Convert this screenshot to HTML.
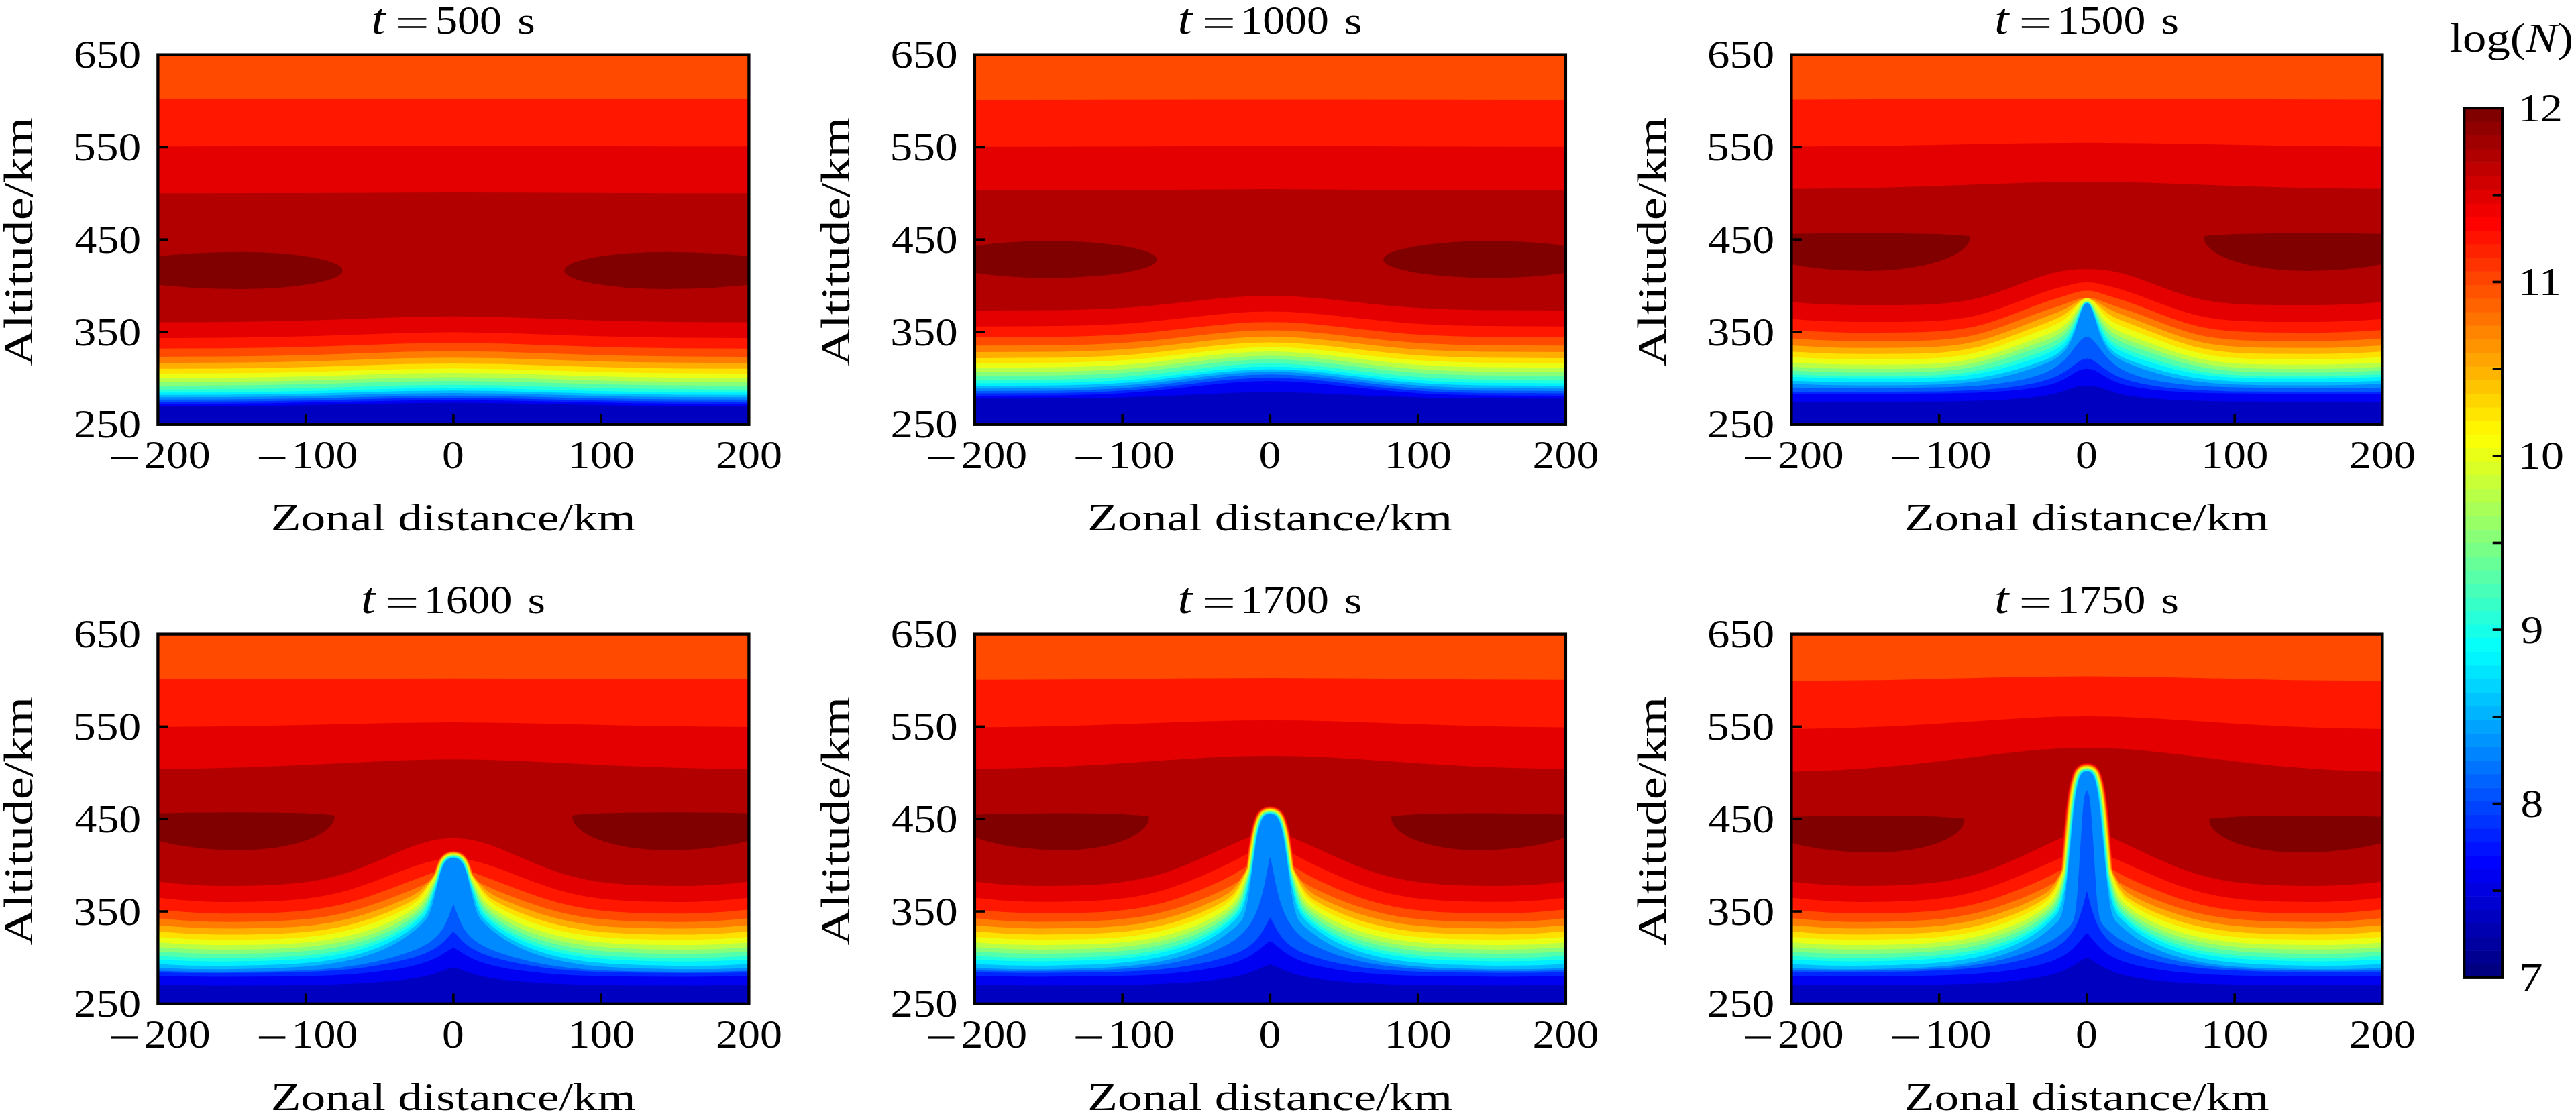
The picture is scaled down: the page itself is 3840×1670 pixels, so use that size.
<!DOCTYPE html><html><head><meta charset="utf-8"><style>html,body{margin:0;padding:0;background:#fff;}svg text{font-family:"Liberation Serif",serif;fill:#000}</style></head><body><svg width="3840" height="1670" viewBox="0 0 3840 1670" font-family="Liberation Serif" style="display:block">
<rect width="3840" height="1670" fill="#fff"/>
<clipPath id="clip00"><rect x="235.40" y="81.60" width="881.0" height="551.2"/></clipPath>
<g clip-path="url(#clip00)">
<rect x="233.40" y="79.60" width="885.0" height="555.2" fill="#0000c0"/>
<path d="M232.4,78.6L232.4,606.0L235.4,606.0 407.2,605.1 604.3,601.2 675.9,600.6 747.5,601.2 944.6,605.1 1116.4,606.0L1119.4,606.0L1119.4,78.6Z" fill="#0000f2"/>
<path d="M232.4,78.6L232.4,602.2L235.4,602.2 332.3,601.9 407.2,601.2 604.3,597.2 675.9,596.5 747.5,597.2 944.6,601.2 1019.5,601.9 1116.4,602.2L1119.4,602.2L1119.4,78.6Z" fill="#0026ff"/>
<path d="M232.4,78.6L232.4,599.0L235.4,599.0 332.3,598.7 407.2,598.0 471.1,596.9 604.3,593.8 675.9,593.1 747.5,593.8 880.7,596.9 944.6,598.0 1019.5,598.7 1116.4,599.0L1119.4,599.0L1119.4,78.6Z" fill="#0058ff"/>
<path d="M232.4,78.6L232.4,595.8L235.4,595.8 332.3,595.5 407.2,594.8 471.1,593.7 604.3,590.5 675.9,589.7 747.5,590.5 880.7,593.7 944.6,594.8 1019.5,595.5 1116.4,595.8L1119.4,595.8L1119.4,78.6Z" fill="#008aff"/>
<path d="M232.4,78.6L232.4,592.2L235.4,592.2 332.3,591.9 407.2,591.2 471.1,590.0 604.3,586.7 675.9,586.0 747.5,586.7 880.7,590.0 944.6,591.2 1019.5,591.9 1116.4,592.2L1119.4,592.2L1119.4,78.6Z" fill="#00bcff"/>
<path d="M232.4,78.6L232.4,588.8L235.4,588.8 332.3,588.5 407.2,587.7 471.1,586.5 604.3,583.1 675.9,582.3 747.5,583.1 880.7,586.5 944.6,587.7 1019.5,588.5 1116.4,588.8L1119.4,588.8L1119.4,78.6Z" fill="#00efff"/>
<path d="M232.4,78.6L232.4,585.2L235.4,585.2 332.3,584.9 407.2,584.1 471.1,582.8 604.3,579.3 675.9,578.5 747.5,579.3 880.7,582.8 944.6,584.1 1019.5,584.9 1116.4,585.2L1119.4,585.2L1119.4,78.6Z" fill="#22ffdd"/>
<path d="M232.4,78.6L232.4,580.7L235.4,580.7 332.3,580.3 407.2,579.5 471.1,578.2 604.3,574.6 675.9,573.8 747.5,574.6 880.7,578.2 944.6,579.5 1019.5,580.3 1116.4,580.7L1119.4,580.7L1119.4,78.6Z" fill="#54ffab"/>
<path d="M232.4,78.6L232.4,575.0L235.4,575.0 332.3,574.7 407.2,573.8 471.1,572.5 604.3,568.8 675.9,567.9 747.5,568.8 880.7,572.5 944.6,573.8 1019.5,574.7 1116.4,575.0L1119.4,575.0L1119.4,78.6Z" fill="#87ff78"/>
<path d="M232.4,78.6L232.4,569.6L235.4,569.6 332.3,569.3 407.2,568.4 471.1,567.1 604.3,563.2 675.9,562.4 747.5,563.2 880.7,567.1 944.6,568.4 1019.5,569.3 1116.4,569.6L1119.4,569.6L1119.4,78.6Z" fill="#b9ff46"/>
<path d="M232.4,78.6L232.4,563.4L235.4,563.4 332.3,563.1 407.2,562.2 471.1,560.8 604.3,556.8 675.9,555.9 747.5,556.8 880.7,560.8 944.6,562.2 1019.5,563.1 1116.4,563.4L1119.4,563.4L1119.4,78.6Z" fill="#ebff14"/>
<path d="M232.4,78.6L232.4,556.9L235.4,556.9 332.3,556.6 407.2,555.7 471.1,554.2 604.3,550.2 675.9,549.3 747.5,550.2 880.7,554.2 944.6,555.7 1019.5,556.6 1116.4,556.9L1119.4,556.9L1119.4,78.6Z" fill="#ffe100"/>
<path d="M232.4,78.6L232.4,549.8L235.4,549.8 332.3,549.4 407.2,548.5 471.1,547.0 604.3,542.8 675.9,541.9 747.5,542.8 880.7,547.0 944.6,548.5 1019.5,549.4 1116.4,549.8L1119.4,549.8L1119.4,78.6Z" fill="#ffae00"/>
<path d="M232.4,78.6L232.4,541.2L235.4,541.2 332.3,540.8 407.2,539.9 471.1,538.4 604.3,534.1 675.9,533.2 747.5,534.1 880.7,538.4 944.6,539.9 1019.5,540.8 1116.4,541.2L1119.4,541.2L1119.4,78.6Z" fill="#ff7c00"/>
<path d="M232.4,78.6L232.4,531.9L235.4,531.9 332.3,531.5 407.2,530.5 471.1,528.9 604.3,524.6 675.9,523.6 747.5,524.6 880.7,528.9 944.6,530.5 1019.5,531.5 1116.4,531.9L1119.4,531.9L1119.4,78.6Z" fill="#ff4a00"/>
<path d="M232.4,78.6L232.4,519.7L235.4,519.7 332.3,519.3 407.2,518.3 471.1,516.7 604.3,512.3 675.9,511.3 747.5,512.3 880.7,516.7 944.6,518.3 1019.5,519.3 1116.4,519.7L1119.4,519.7L1119.4,78.6Z" fill="#ff1700"/>
<path d="M232.4,78.6L232.4,504.0L235.4,504.0 332.3,503.6 407.2,502.6 471.1,500.9 604.3,496.4 675.9,495.3 747.5,496.4 880.7,500.9 944.6,502.6 1019.5,503.6 1116.4,504.0L1119.4,504.0L1119.4,78.6Z" fill="#e40000"/>
<path d="M232.4,78.6L232.4,480.6L235.4,480.6 332.3,480.2 407.2,479.1 471.1,477.5 604.3,472.8 641.3,472.0 675.9,471.7 710.5,472.0 747.5,472.8 880.7,477.5 944.6,479.1 1019.5,480.2 1116.4,480.6L1119.4,480.6L1119.4,78.6Z" fill="#b20000"/>
<path d="M232.4,78.6L232.4,288.3L235.4,288.3 407.2,288.1 675.9,286.9 944.6,288.1 1116.4,288.3L1119.4,288.3L1119.4,78.6Z" fill="#e40000"/>
<path d="M232.4,78.6L232.4,218.3L235.4,218.3 675.9,217.6 1116.4,218.3L1119.4,218.3L1119.4,78.6Z" fill="#ff1700"/>
<path d="M232.4,78.6L232.4,147.7L235.4,147.7 1116.4,147.7L1119.4,147.7L1119.4,78.6Z" fill="#ff4a00"/>
<path d="M510.7,403.4 509.9,400.5 507.4,397.6 503.3,394.8 499.2,392.8 492.4,390.2 484.2,387.7 466.5,383.8 442.0,380.2 417.6,377.8 387.4,376.2 359.6,375.8 323.4,376.3 288.4,377.7 251.5,380.4 223.1,383.6 199.4,387.4 188.2,389.8 178.9,392.4 171.7,395.2 166.6,398.0 163.6,400.8 162.7,403.0 162.9,404.4 163.6,405.9 166.6,408.8 170.2,410.9 176.9,413.6 185.7,416.2 196.4,418.7 219.4,422.7 251.5,426.3 283.6,428.7 323.4,430.4 359.6,430.9 387.4,430.5 417.6,428.9 445.3,426.1 466.5,422.9 484.2,419.0 492.4,416.6 499.2,414.0 504.5,411.2 507.4,409.1 509.9,406.3 510.7,403.4Z" fill="#800000"/>
<path d="M841.1,403.4 841.9,400.5 844.4,397.6 848.5,394.8 852.6,392.8 859.4,390.2 867.6,387.7 885.3,383.8 909.8,380.2 934.2,377.8 964.4,376.2 992.2,375.8 1028.4,376.3 1063.4,377.7 1100.3,380.4 1128.7,383.6 1152.4,387.4 1163.6,389.8 1172.9,392.4 1180.1,395.2 1184.2,397.3 1187.7,400.1 1189.1,403.0 1188.7,405.2 1186.2,408.0 1181.6,410.9 1174.9,413.6 1166.1,416.2 1155.4,418.7 1132.4,422.7 1100.3,426.3 1068.2,428.7 1028.4,430.4 992.2,430.9 964.4,430.5 934.2,428.9 906.5,426.1 885.3,422.9 867.6,419.0 859.4,416.6 852.6,414.0 848.5,411.9 844.4,409.1 841.9,406.3 841.1,403.4Z" fill="#800000"/>
</g>
<rect x="453.85" y="617.30" width="3.6" height="15.5" fill="#000"/>
<rect x="674.10" y="617.30" width="3.6" height="15.5" fill="#000"/>
<rect x="894.35" y="617.30" width="3.6" height="15.5" fill="#000"/>
<rect x="235.40" y="217.60" width="15.5" height="3.6" fill="#000"/>
<rect x="235.40" y="355.40" width="15.5" height="3.6" fill="#000"/>
<rect x="235.40" y="493.20" width="15.5" height="3.6" fill="#000"/>
<rect x="235.40" y="81.60" width="881.0" height="551.2" fill="none" stroke="#000" stroke-width="4.3"/>
<text transform="translate(110.03,101.10) scale(1.1108,1)" font-size="60.15">650</text>
<text transform="translate(108.98,238.90) scale(1.1228,1)" font-size="60.15">550</text>
<text transform="translate(111.62,376.70) scale(1.0927,1)" font-size="60.15">450</text>
<text transform="translate(109.69,514.50) scale(1.1146,1)" font-size="60.15">350</text>
<text transform="translate(109.96,652.30) scale(1.1115,1)" font-size="60.15">250</text>
<text transform="translate(215.01,698.30) scale(1.1078,1)" font-size="59.40">200</text>
<rect x="166.00" y="681.30" width="39.0" height="3.3" fill="#000"/>
<text transform="translate(434.49,698.30) scale(1.1126,1)" font-size="59.40">100</text>
<rect x="385.90" y="681.30" width="39.5" height="3.3" fill="#000"/>
<text transform="translate(659.10,698.30) scale(1.1043,1)" font-size="59.40">0</text>
<text transform="translate(846.07,698.30) scale(1.1273,1)" font-size="59.40">100</text>
<text transform="translate(1067.10,698.30) scale(1.1114,1)" font-size="59.40">200</text>
<text transform="translate(403.79,790.80) scale(1.2917,1)" font-size="56.78">Zonal distance/km</text>
<text transform="translate(48.20,545.75) rotate(-90) scale(1.2380,1)" font-size="62.00">Altitude/km</text>
<text transform="translate(553.21,49.50) scale(1.1842,1)" font-size="65.19" font-style="italic">t</text>
<rect x="594.10" y="27.10" width="41.3" height="2.6" fill="#000"/>
<rect x="594.10" y="39.20" width="41.3" height="2.6" fill="#000"/>
<text transform="translate(648.95,49.50) scale(1.1142,1)" font-size="59.40">500</text>
<text transform="translate(771.21,49.50) scale(1.1991,1)" font-size="56.66">s</text>
<clipPath id="clip01"><rect x="1452.90" y="81.60" width="881.0" height="551.2"/></clipPath>
<g clip-path="url(#clip01)">
<rect x="1450.90" y="79.60" width="885.0" height="555.2" fill="#0000c0"/>
<path d="M1449.9,78.6L1449.9,594.3L1452.9,594.3 1578.4,594.1 1655.5,593.0 1717.2,591.1 1835.5,585.8 1865.2,585.0 1893.4,584.7 1921.6,585.0 1951.3,585.8 2069.6,591.1 2131.3,593.0 2208.4,594.1 2333.9,594.3L2336.9,594.3L2336.9,78.6Z" fill="#0000f2"/>
<path d="M1449.9,78.6L1449.9,590.1L1452.9,590.1 1578.4,589.5 1620.3,588.6 1655.5,587.2 1686.4,585.3 1717.2,582.8 1807.1,573.2 1835.5,570.6 1865.2,568.7 1893.4,568.1 1921.6,568.7 1951.3,570.6 1979.7,573.2 2069.6,582.8 2100.4,585.3 2131.3,587.2 2166.5,588.6 2208.4,589.5 2333.9,590.1L2336.9,590.1L2336.9,78.6Z" fill="#0026ff"/>
<path d="M1449.9,78.6L1449.9,586.6L1452.9,586.6 1578.4,585.9 1620.3,585.0 1655.5,583.5 1686.4,581.5 1717.2,578.8 1807.1,568.6 1835.5,565.8 1865.2,563.9 1893.4,563.2 1921.6,563.9 1951.3,565.8 1979.7,568.6 2069.6,578.8 2100.4,581.5 2131.3,583.5 2166.5,585.0 2208.4,585.9 2333.9,586.6L2336.9,586.6L2336.9,78.6Z" fill="#0058ff"/>
<path d="M1449.9,78.6L1449.9,583.1L1452.9,583.1 1578.4,582.4 1620.3,581.3 1655.5,579.8 1686.4,577.7 1717.2,574.8 1807.1,564.1 1835.5,561.1 1865.2,559.0 1893.4,558.3 1921.6,559.0 1951.3,561.1 1979.7,564.1 2069.6,574.8 2100.4,577.7 2131.3,579.8 2166.5,581.3 2208.4,582.4 2333.9,583.1L2336.9,583.1L2336.9,78.6Z" fill="#008aff"/>
<path d="M1449.9,78.6L1449.9,579.2L1452.9,579.2 1578.4,578.4 1620.3,577.4 1655.5,575.8 1686.4,573.7 1717.2,570.9 1807.1,560.1 1835.5,557.1 1865.2,555.1 1893.4,554.4 1921.6,555.1 1951.3,557.1 1979.7,560.1 2069.6,570.9 2100.4,573.7 2131.3,575.8 2166.5,577.4 2208.4,578.4 2333.9,579.2L2336.9,579.2L2336.9,78.6Z" fill="#00bcff"/>
<path d="M1449.9,78.6L1449.9,575.4L1452.9,575.4 1578.4,574.6 1620.3,573.6 1655.5,572.0 1686.4,569.9 1717.2,567.1 1807.1,556.3 1835.5,553.4 1865.2,551.3 1893.4,550.6 1921.6,551.3 1951.3,553.4 1979.7,556.3 2069.6,567.1 2100.4,569.9 2131.3,572.0 2166.5,573.6 2208.4,574.6 2333.9,575.4L2336.9,575.4L2336.9,78.6Z" fill="#00efff"/>
<path d="M1449.9,78.6L1449.9,571.4L1452.9,571.4 1578.4,570.7 1620.3,569.7 1655.5,568.1 1686.4,566.0 1717.2,563.2 1807.1,552.4 1835.5,549.4 1865.2,547.3 1893.4,546.7 1921.6,547.3 1951.3,549.4 1979.7,552.4 2069.6,563.2 2100.4,566.0 2131.3,568.1 2166.5,569.7 2208.4,570.7 2333.9,571.4L2336.9,571.4L2336.9,78.6Z" fill="#22ffdd"/>
<path d="M1449.9,78.6L1449.9,566.5L1452.9,566.5 1578.4,565.8 1620.3,564.8 1655.5,563.2 1686.4,561.1 1717.2,558.3 1807.1,547.5 1835.5,544.5 1865.2,542.4 1893.4,541.8 1921.6,542.4 1951.3,544.5 1979.7,547.5 2069.6,558.3 2100.4,561.1 2131.3,563.2 2166.5,564.8 2208.4,565.8 2333.9,566.5L2336.9,566.5L2336.9,78.6Z" fill="#54ffab"/>
<path d="M1449.9,78.6L1449.9,560.5L1452.9,560.5 1578.4,559.8 1620.3,558.8 1655.5,557.2 1686.4,555.1 1717.2,552.3 1807.1,541.5 1835.5,538.5 1865.2,536.4 1893.4,535.8 1921.6,536.4 1951.3,538.5 1979.7,541.5 2069.6,552.3 2100.4,555.1 2131.3,557.2 2166.5,558.8 2208.4,559.8 2333.9,560.5L2336.9,560.5L2336.9,78.6Z" fill="#87ff78"/>
<path d="M1449.9,78.6L1449.9,554.8L1452.9,554.8 1578.4,554.1 1620.3,553.1 1655.5,551.5 1686.4,549.5 1717.2,546.7 1807.1,536.0 1835.5,533.1 1865.2,531.0 1893.4,530.3 1921.6,531.0 1951.3,533.1 1979.7,536.0 2069.6,546.7 2100.4,549.5 2131.3,551.5 2166.5,553.1 2208.4,554.1 2333.9,554.8L2336.9,554.8L2336.9,78.6Z" fill="#b9ff46"/>
<path d="M1449.9,78.6L1449.9,548.3L1452.9,548.3 1578.4,547.6 1620.3,546.6 1655.5,545.0 1686.4,543.0 1717.2,540.2 1807.1,529.7 1835.5,526.8 1865.2,524.8 1893.4,524.1 1921.6,524.8 1951.3,526.8 1979.7,529.7 2069.6,540.2 2100.4,543.0 2131.3,545.0 2166.5,546.6 2208.4,547.6 2333.9,548.3L2336.9,548.3L2336.9,78.6Z" fill="#ebff14"/>
<path d="M1449.9,78.6L1449.9,541.4L1452.9,541.4 1578.4,540.7 1620.3,539.8 1655.5,538.2 1686.4,536.2 1717.2,533.5 1807.1,523.1 1835.5,520.2 1865.2,518.2 1893.4,517.6 1921.6,518.2 1951.3,520.2 1979.7,523.1 2069.6,533.5 2100.4,536.2 2131.3,538.2 2166.5,539.8 2208.4,540.7 2333.9,541.4L2336.9,541.4L2336.9,78.6Z" fill="#ffe100"/>
<path d="M1449.9,78.6L1449.9,533.9L1452.9,533.9 1578.4,533.2 1620.3,532.3 1655.5,530.8 1686.4,528.8 1717.2,526.1 1807.1,515.8 1835.5,513.0 1865.2,511.0 1893.4,510.4 1921.6,511.0 1951.3,513.0 1979.7,515.8 2069.6,526.1 2100.4,528.8 2131.3,530.8 2166.5,532.3 2208.4,533.2 2333.9,533.9L2336.9,533.9L2336.9,78.6Z" fill="#ffae00"/>
<path d="M1449.9,78.6L1449.9,525.0L1452.9,525.0 1578.4,524.4 1620.3,523.4 1655.5,521.9 1686.4,519.9 1717.2,517.3 1807.1,507.2 1835.5,504.4 1865.2,502.4 1893.4,501.8 1921.6,502.4 1951.3,504.4 1979.7,507.2 2069.6,517.3 2100.4,519.9 2131.3,521.9 2166.5,523.4 2208.4,524.4 2333.9,525.0L2336.9,525.0L2336.9,78.6Z" fill="#ff7c00"/>
<path d="M1449.9,78.6L1449.9,515.3L1452.9,515.3 1578.4,514.6 1620.3,513.7 1655.5,512.2 1686.4,510.3 1717.2,507.7 1807.1,497.7 1835.5,494.9 1865.2,493.0 1893.4,492.4 1921.6,493.0 1951.3,494.9 1979.7,497.7 2069.6,507.7 2100.4,510.3 2131.3,512.2 2166.5,513.7 2208.4,514.6 2333.9,515.3L2336.9,515.3L2336.9,78.6Z" fill="#ff4a00"/>
<path d="M1449.9,78.6L1449.9,502.8L1452.9,502.8 1578.4,502.2 1620.3,501.2 1655.5,499.8 1686.4,497.9 1717.2,495.3 1807.1,485.5 1835.5,482.7 1865.2,480.8 1893.4,480.2 1921.6,480.8 1951.3,482.7 1979.7,485.5 2069.6,495.3 2100.4,497.9 2131.3,499.8 2166.5,501.2 2208.4,502.2 2333.9,502.8L2336.9,502.8L2336.9,78.6Z" fill="#ff1700"/>
<path d="M1449.9,78.6L1449.9,486.8L1452.9,486.8 1578.4,486.1 1620.3,485.2 1655.5,483.8 1686.4,481.9 1717.2,479.3 1807.1,469.6 1835.5,467.0 1865.2,465.1 1893.4,464.5 1921.6,465.1 1951.3,467.0 1979.7,469.6 2069.6,479.3 2100.4,481.9 2131.3,483.8 2166.5,485.2 2208.4,486.1 2333.9,486.8L2336.9,486.8L2336.9,78.6Z" fill="#e40000"/>
<path d="M1449.9,78.6L1449.9,463.0L1452.9,463.0 1578.4,462.4 1620.3,461.5 1655.5,460.0 1686.4,458.2 1717.2,455.7 1807.1,446.1 1835.5,443.4 1865.2,441.6 1893.4,441.0 1921.6,441.6 1951.3,443.4 1979.7,446.1 2069.6,455.7 2100.4,458.2 2131.3,460.0 2166.5,461.5 2208.4,462.4 2333.9,463.0L2336.9,463.0L2336.9,78.6Z" fill="#b20000"/>
<path d="M1449.9,78.6L1449.9,284.1L1452.9,284.1 1624.7,283.8 1893.4,282.1 2162.1,283.8 2333.9,284.1L2336.9,284.1L2336.9,78.6Z" fill="#e40000"/>
<path d="M1449.9,78.6L1449.9,218.8L1452.9,218.8 1624.7,218.6 1893.4,217.5 2162.1,218.6 2333.9,218.8L2336.9,218.8L2336.9,78.6Z" fill="#ff1700"/>
<path d="M1449.9,78.6L1449.9,149.1L1452.9,149.1 1893.4,148.4 2333.9,149.1L2336.9,149.1L2336.9,78.6Z" fill="#ff4a00"/>
<path d="M1724.7,386.8 1723.8,383.9 1721.1,381.1 1716.8,378.3 1712.3,376.2 1705.0,373.6 1696.2,371.2 1677.2,367.3 1650.9,363.7 1624.7,361.3 1596.4,359.8 1562.8,359.3 1533.4,359.8 1501.2,361.5 1475.1,363.8 1452.1,367.0 1430.4,371.5 1416.3,375.9 1411.7,377.9 1407.1,380.7 1404.2,383.6 1403.1,386.5 1403.8,389.4 1406.2,392.2 1409.2,394.3 1414.7,397.1 1421.8,399.7 1430.4,402.2 1449.1,406.1 1475.1,409.8 1501.2,412.2 1529.3,413.7 1562.8,414.4 1592.3,414.0 1624.7,412.3 1650.9,410.0 1677.2,406.4 1696.2,402.5 1705.0,400.0 1712.3,397.4 1716.8,395.4 1721.1,392.6 1723.8,389.7 1724.7,386.8Z" fill="#800000"/>
<path d="M2062.1,386.8 2063.0,383.9 2065.7,381.1 2068.8,379.0 2074.5,376.2 2081.8,373.6 2090.6,371.2 2109.6,367.3 2135.9,363.7 2162.1,361.3 2190.4,359.8 2224.0,359.3 2253.4,359.8 2285.6,361.5 2311.7,363.8 2334.7,367.0 2354.0,370.9 2363.0,373.3 2370.5,375.9 2375.1,377.9 2379.7,380.7 2382.6,383.6 2383.7,386.5 2383.0,389.4 2381.3,391.5 2377.6,394.3 2372.1,397.1 2358.7,401.6 2337.7,406.1 2311.7,409.8 2285.6,412.2 2257.5,413.7 2224.0,414.4 2194.5,414.0 2162.1,412.3 2135.9,410.0 2109.6,406.4 2090.6,402.5 2081.8,400.0 2074.5,397.4 2068.8,394.7 2065.7,392.6 2063.0,389.7 2062.1,386.8Z" fill="#800000"/>
</g>
<rect x="1671.35" y="617.30" width="3.6" height="15.5" fill="#000"/>
<rect x="1891.60" y="617.30" width="3.6" height="15.5" fill="#000"/>
<rect x="2111.85" y="617.30" width="3.6" height="15.5" fill="#000"/>
<rect x="1452.90" y="217.60" width="15.5" height="3.6" fill="#000"/>
<rect x="1452.90" y="355.40" width="15.5" height="3.6" fill="#000"/>
<rect x="1452.90" y="493.20" width="15.5" height="3.6" fill="#000"/>
<rect x="1452.90" y="81.60" width="881.0" height="551.2" fill="none" stroke="#000" stroke-width="4.3"/>
<text transform="translate(1327.53,101.10) scale(1.1108,1)" font-size="60.15">650</text>
<text transform="translate(1326.48,238.90) scale(1.1228,1)" font-size="60.15">550</text>
<text transform="translate(1329.12,376.70) scale(1.0927,1)" font-size="60.15">450</text>
<text transform="translate(1327.19,514.50) scale(1.1146,1)" font-size="60.15">350</text>
<text transform="translate(1327.46,652.30) scale(1.1115,1)" font-size="60.15">250</text>
<text transform="translate(1432.51,698.30) scale(1.1078,1)" font-size="59.40">200</text>
<rect x="1383.50" y="681.30" width="39.0" height="3.3" fill="#000"/>
<text transform="translate(1651.99,698.30) scale(1.1126,1)" font-size="59.40">100</text>
<rect x="1603.40" y="681.30" width="39.5" height="3.3" fill="#000"/>
<text transform="translate(1876.60,698.30) scale(1.1043,1)" font-size="59.40">0</text>
<text transform="translate(2063.57,698.30) scale(1.1273,1)" font-size="59.40">100</text>
<text transform="translate(2284.60,698.30) scale(1.1114,1)" font-size="59.40">200</text>
<text transform="translate(1621.29,790.80) scale(1.2917,1)" font-size="56.78">Zonal distance/km</text>
<text transform="translate(1265.70,545.75) rotate(-90) scale(1.2380,1)" font-size="62.00">Altitude/km</text>
<text transform="translate(1755.46,49.50) scale(1.1842,1)" font-size="65.19" font-style="italic">t</text>
<rect x="1796.35" y="27.10" width="41.3" height="2.6" fill="#000"/>
<rect x="1796.35" y="39.20" width="41.3" height="2.6" fill="#000"/>
<text transform="translate(1849.26,49.50) scale(1.1086,1)" font-size="59.40">1000</text>
<text transform="translate(2003.96,49.50) scale(1.1991,1)" font-size="56.66">s</text>
<clipPath id="clip02"><rect x="2670.40" y="81.60" width="881.0" height="551.2"/></clipPath>
<g clip-path="url(#clip02)">
<rect x="2668.40" y="79.60" width="885.0" height="555.2" fill="#0000c0"/>
<path d="M2667.4,78.6L2667.4,598.9L2670.4,598.9 2897.3,598.5 2947.9,597.6 2986.7,596.1 3021.3,593.6 3047.2,590.2 3057.4,588.3 3066.6,585.9 3095.5,576.6 3102.8,575.3 3110.9,574.9 3119.0,575.3 3126.3,576.6 3155.2,585.9 3164.4,588.3 3174.6,590.2 3200.5,593.6 3235.1,596.1 3273.9,597.6 3324.5,598.5 3551.4,598.9L3554.4,598.9L3554.4,78.6Z" fill="#0000f2"/>
<path d="M2667.4,78.6L2667.4,587.3L2670.4,587.3 2833.4,587.1 2901.7,586.6 2952.3,585.3 2994.4,582.8 3013.8,580.8 3030.7,578.6 3044.8,576.1 3056.5,573.3 3066.0,570.2 3074.6,566.5 3081.8,562.6 3094.6,554.7 3099.7,552.1 3105.2,550.4 3110.9,549.8 3116.6,550.4 3122.1,552.1 3127.2,554.7 3140.0,562.6 3147.2,566.5 3155.8,570.2 3165.3,573.3 3177.0,576.1 3191.1,578.6 3208.0,580.8 3227.4,582.8 3269.5,585.3 3320.1,586.6 3388.4,587.1 3551.4,587.3L3554.4,587.3L3554.4,78.6Z" fill="#0026ff"/>
<path d="M2667.4,78.6L2667.4,584.4L2670.4,584.4 2826.8,584.0 2897.3,583.4 2947.9,581.6 2969.9,580.1 2988.9,578.2 3009.4,575.5 3027.6,572.3 3043.3,568.7 3056.5,564.6 3066.9,560.4 3076.3,555.3 3083.1,550.8 3096.6,540.7 3101.9,537.2 3106.5,535.2 3110.9,534.5 3115.3,535.2 3119.9,537.2 3125.2,540.7 3138.7,550.8 3145.5,555.3 3155.0,560.4 3165.3,564.6 3178.5,568.7 3194.2,572.3 3212.4,575.5 3232.9,578.2 3251.9,580.1 3273.9,581.6 3324.5,583.4 3395.0,584.0 3551.4,584.4L3554.4,584.4L3554.4,78.6Z" fill="#0058ff"/>
<path d="M2667.4,78.6L2667.4,577.7L2670.4,577.7 2721.1,578.4 2771.7,578.5 2851.0,578.1 2899.5,577.3 2928.1,576.3 2954.5,574.6 2976.5,572.3 2998.8,569.1 3018.4,565.2 3035.4,560.6 3049.5,555.4 3061.1,549.4 3070.4,543.0 3079.0,535.2 3085.1,528.2 3097.9,511.4 3102.8,506.0 3106.9,502.9 3110.9,501.9 3114.9,502.9 3119.0,506.0 3123.9,511.4 3136.7,528.2 3142.8,535.2 3151.4,543.0 3160.7,549.4 3172.3,555.4 3186.4,560.6 3203.4,565.2 3223.0,569.1 3245.3,572.3 3267.3,574.6 3293.7,576.3 3322.3,577.3 3370.8,578.1 3450.1,578.5 3500.7,578.4 3551.4,577.7L3554.4,577.7L3554.4,78.6Z" fill="#008aff"/>
<path d="M2667.4,78.6L2667.4,572.4L2670.4,572.4 2721.1,573.9 2769.5,574.5 2851.0,574.2 2897.3,573.0 2925.9,571.1 2952.3,568.1 2978.8,563.4 3003.4,557.4 3029.4,549.5 3050.6,541.5 3058.0,538.0 3064.4,534.4 3069.9,530.6 3074.6,526.5 3078.1,522.7 3081.4,518.4 3087.1,508.5 3092.8,494.4 3101.4,467.2 3104.3,459.4 3106.1,455.8 3107.6,453.6 3109.1,452.4 3110.9,452.0 3112.7,452.4 3114.2,453.6 3115.7,455.8 3117.5,459.4 3120.4,467.2 3129.0,494.4 3134.7,508.5 3140.4,518.4 3143.7,522.7 3147.2,526.5 3151.9,530.6 3157.4,534.4 3163.8,538.0 3171.2,541.5 3192.4,549.5 3218.4,557.4 3243.1,563.4 3269.5,568.1 3295.9,571.1 3324.5,573.0 3370.8,574.2 3452.3,574.5 3500.7,573.9 3551.4,572.4L3554.4,572.4L3554.4,78.6Z" fill="#00bcff"/>
<path d="M2667.4,78.6L2667.4,567.7L2670.4,567.7 2718.9,569.3 2767.3,569.9 2844.4,569.7 2890.7,568.6 2919.3,566.8 2945.7,563.9 2969.9,559.8 2995.3,553.9 3023.5,545.6 3047.5,537.1 3055.6,533.6 3062.2,530.2 3068.0,526.6 3073.0,522.6 3080.1,515.0 3086.0,505.7 3092.2,492.0 3101.0,466.3 3104.1,458.6 3107.4,453.2 3109.1,451.9 3110.9,451.6 3112.7,451.9 3114.4,453.2 3117.7,458.6 3120.8,466.3 3129.6,492.0 3135.8,505.7 3141.7,515.0 3148.8,522.6 3153.8,526.6 3159.6,530.2 3166.2,533.6 3174.3,537.1 3198.3,545.6 3226.5,553.9 3251.9,559.8 3276.1,563.9 3302.5,566.8 3331.2,568.6 3377.4,569.7 3454.5,569.9 3502.9,569.3 3551.4,567.7L3554.4,567.7L3554.4,78.6Z" fill="#00efff"/>
<path d="M2667.4,78.6L2667.4,562.1L2670.4,562.1 2716.7,563.8 2762.9,564.5 2837.8,564.4 2881.8,563.4 2910.5,561.8 2934.7,559.2 2956.7,555.7 2980.5,550.4 3010.0,542.0 3041.5,531.4 3058.9,524.1 3065.3,520.6 3070.8,516.8 3074.8,513.5 3078.5,509.7 3082.0,505.3 3085.1,500.6 3091.5,488.0 3100.8,464.1 3103.9,457.2 3105.6,454.2 3107.4,452.2 3109.1,451.1 3110.9,450.8 3112.7,451.1 3114.4,452.2 3116.2,454.2 3117.9,457.2 3121.0,464.1 3130.3,488.0 3136.7,500.6 3139.8,505.3 3143.3,509.7 3147.0,513.5 3151.0,516.8 3156.5,520.6 3162.9,524.1 3180.3,531.4 3211.8,542.0 3241.3,550.4 3265.1,555.7 3287.1,559.2 3311.3,561.8 3340.0,563.4 3384.0,564.4 3458.9,564.5 3505.1,563.8 3551.4,562.1L3554.4,562.1L3554.4,78.6Z" fill="#22ffdd"/>
<path d="M2667.4,78.6L2667.4,558.3L2670.4,558.3 2716.7,560.1 2760.7,560.9 2831.2,560.8 2873.0,560.0 2899.5,558.7 2923.7,556.4 2945.7,553.0 2967.7,548.3 2997.7,539.9 3037.1,526.8 3056.7,519.1 3063.8,515.6 3069.5,512.1 3073.9,508.8 3077.9,505.1 3081.4,501.2 3084.7,496.6 3091.3,484.8 3104.1,456.1 3107.4,451.7 3109.1,450.7 3110.9,450.4 3112.7,450.7 3114.4,451.7 3117.7,456.1 3130.5,484.8 3137.1,496.6 3140.4,501.2 3143.9,505.1 3147.9,508.8 3152.3,512.1 3158.0,515.6 3165.1,519.1 3184.7,526.8 3224.1,539.9 3254.1,548.3 3276.1,553.0 3298.1,556.4 3322.3,558.7 3348.8,560.0 3390.6,560.8 3461.1,560.9 3505.1,560.1 3551.4,558.3L3554.4,558.3L3554.4,78.6Z" fill="#54ffab"/>
<path d="M2667.4,78.6L2667.4,552.6L2670.4,552.6 2714.5,554.5 2756.3,555.4 2820.2,555.4 2864.2,554.7 2890.7,553.5 2912.7,551.5 2934.7,548.4 2954.5,544.3 2969.9,540.4 2984.7,536.1 3029.6,521.3 3053.9,512.5 3061.6,509.1 3068.0,505.6 3076.5,499.4 3083.6,491.7 3090.4,481.2 3099.9,462.2 3103.2,456.4 3107.2,451.5 3108.9,450.4 3110.9,450.1 3112.9,450.4 3114.6,451.5 3118.6,456.4 3121.9,462.2 3131.4,481.2 3138.2,491.7 3145.3,499.4 3153.8,505.6 3160.2,509.1 3167.9,512.5 3192.2,521.3 3237.1,536.1 3251.9,540.4 3267.3,544.3 3287.1,548.4 3309.1,551.5 3331.2,553.5 3357.6,554.7 3401.6,555.4 3465.5,555.4 3507.4,554.5 3551.4,552.6L3554.4,552.6L3554.4,78.6Z" fill="#87ff78"/>
<path d="M2667.4,78.6L2667.4,547.0L2670.4,547.0 2712.2,548.9 2754.1,549.8 2813.6,549.9 2857.6,549.4 2886.2,548.2 2908.3,546.5 2928.1,543.8 2947.9,540.1 2972.1,533.8 2998.4,525.4 3047.9,507.8 3058.5,503.5 3066.6,499.5 3075.2,493.9 3082.5,487.0 3089.5,477.5 3099.7,459.9 3103.0,454.9 3106.7,451.2 3108.9,450.0 3110.9,449.7 3112.9,450.0 3115.1,451.2 3118.8,454.9 3122.1,459.9 3132.3,477.5 3139.3,487.0 3146.6,493.9 3155.2,499.5 3163.3,503.5 3173.9,507.8 3223.4,525.4 3249.7,533.8 3273.9,540.1 3293.7,543.8 3313.5,546.5 3335.6,548.2 3364.2,549.4 3408.2,549.9 3467.7,549.8 3509.6,548.9 3551.4,547.0L3554.4,547.0L3554.4,78.6Z" fill="#b9ff46"/>
<path d="M2667.4,78.6L2667.4,540.6L2670.4,540.6 2712.2,542.6 2751.9,543.6 2804.8,543.8 2853.2,543.3 2879.6,542.4 2901.7,540.9 2921.5,538.6 2941.3,535.1 2963.3,529.7 2988.0,522.0 3046.4,500.8 3057.2,496.5 3065.3,492.7 3074.1,487.5 3081.4,481.5 3088.9,472.8 3099.2,457.3 3102.8,452.7 3106.7,449.4 3108.7,448.6 3110.9,448.4 3113.1,448.6 3115.1,449.4 3119.0,452.7 3122.6,457.3 3132.9,472.8 3140.4,481.5 3147.7,487.5 3156.5,492.7 3164.6,496.5 3175.4,500.8 3233.8,522.0 3258.5,529.7 3280.5,535.1 3300.3,538.6 3320.1,540.9 3342.2,542.4 3368.6,543.3 3417.0,543.8 3469.9,543.6 3509.6,542.6 3551.4,540.6L3554.4,540.6L3554.4,78.6Z" fill="#ebff14"/>
<path d="M2667.4,78.6L2667.4,532.4L2670.4,532.4 2710.0,534.4 2749.7,535.6 2789.3,535.8 2848.8,535.4 2877.4,534.6 2899.5,533.1 2919.3,530.8 2936.9,527.8 2958.9,522.6 2982.5,515.2 3047.2,491.1 3064.4,484.0 3073.2,479.2 3080.5,474.0 3088.0,466.5 3099.0,452.6 3102.5,448.7 3106.7,445.8 3110.9,445.0 3115.1,445.8 3119.3,448.7 3122.8,452.6 3133.8,466.5 3141.3,474.0 3148.6,479.2 3157.4,484.0 3174.6,491.1 3239.3,515.2 3262.9,522.6 3284.9,527.8 3302.5,530.8 3322.3,533.1 3344.4,534.6 3373.0,535.4 3432.5,535.8 3472.1,535.6 3511.8,534.4 3551.4,532.4L3554.4,532.4L3554.4,78.6Z" fill="#ffe100"/>
<path d="M2667.4,78.6L2667.4,524.2L2670.4,524.2 2710.0,526.4 2747.5,527.5 2778.3,527.8 2840.0,527.6 2868.6,526.9 2892.9,525.7 2912.7,523.8 2930.3,521.1 2952.3,516.4 2976.5,509.1 2998.8,501.1 3060.7,477.3 3070.2,472.9 3077.9,468.5 3085.8,462.6 3100.8,449.3 3106.5,445.5 3108.7,444.8 3110.9,444.6 3113.1,444.8 3115.3,445.5 3121.0,449.3 3136.0,462.6 3143.9,468.5 3151.6,472.9 3161.1,477.3 3223.0,501.1 3245.3,509.1 3269.5,516.4 3291.5,521.1 3309.1,523.8 3328.9,525.7 3353.2,526.9 3381.8,527.6 3443.5,527.8 3474.3,527.5 3511.8,526.4 3551.4,524.2L3554.4,524.2L3554.4,78.6Z" fill="#ffae00"/>
<path d="M2667.4,78.6L2667.4,515.0L2670.4,515.0 2707.8,517.1 2745.3,518.4 2776.1,518.7 2831.2,518.6 2862.0,518.1 2886.2,517.1 2906.1,515.5 2925.9,512.9 2941.3,510.0 2956.7,506.2 2972.1,501.5 2990.2,495.2 3067.7,465.5 3080.5,459.4 3099.4,448.1 3107.4,444.8 3110.9,444.2 3114.4,444.8 3122.4,448.1 3141.3,459.4 3154.1,465.5 3231.6,495.2 3249.7,501.5 3265.1,506.2 3280.5,510.0 3295.9,512.9 3315.7,515.5 3335.6,517.1 3359.8,518.1 3390.6,518.6 3445.7,518.7 3476.5,518.4 3514.0,517.1 3551.4,515.0L3554.4,515.0L3554.4,78.6Z" fill="#ff7c00"/>
<path d="M2667.4,78.6L2667.4,504.6L2670.4,504.6 2705.6,506.8 2738.7,508.0 2769.5,508.5 2811.4,508.5 2851.0,508.2 2877.4,507.4 2899.5,506.1 2919.3,503.8 2932.5,501.7 2943.5,499.4 2954.5,496.7 2967.7,492.8 2988.7,485.6 3036.5,467.3 3074.1,454.4 3094.8,446.7 3103.0,444.5 3110.9,443.9 3118.8,444.5 3127.0,446.7 3147.7,454.4 3185.3,467.3 3233.1,485.6 3254.1,492.8 3267.3,496.7 3278.3,499.4 3289.3,501.7 3302.5,503.8 3322.3,506.1 3344.4,507.4 3370.8,508.2 3410.4,508.5 3452.3,508.5 3483.1,508.0 3516.2,506.8 3551.4,504.6L3554.4,504.6L3554.4,78.6Z" fill="#ff4a00"/>
<path d="M2667.4,78.6L2667.4,491.9L2670.4,491.9 2701.2,493.9 2729.9,495.2 2758.5,495.9 2789.3,496.0 2840.0,495.8 2870.8,495.1 2895.1,493.8 2917.1,491.6 2941.3,487.4 2963.3,481.7 2985.1,474.4 3031.2,456.7 3054.3,448.6 3095.7,435.4 3103.4,433.8 3110.9,433.4 3118.4,433.8 3126.1,435.4 3167.5,448.6 3190.6,456.7 3236.7,474.4 3258.5,481.7 3280.5,487.4 3304.7,491.6 3326.7,493.8 3351.0,495.1 3381.8,495.8 3432.5,496.0 3463.3,495.9 3491.9,495.2 3520.6,493.9 3551.4,491.9L3554.4,491.9L3554.4,78.6Z" fill="#ff1700"/>
<path d="M2667.4,78.6L2667.4,475.7L2670.4,475.7 2699.0,477.7 2725.5,479.0 2751.9,479.8 2778.3,480.1 2833.4,479.9 2866.4,479.3 2892.9,478.0 2914.9,475.9 2928.1,473.9 2941.3,471.4 2952.3,468.8 2965.5,465.1 2988.0,457.5 3038.4,438.4 3066.2,429.6 3094.6,422.4 3102.8,421.2 3110.9,420.9 3119.0,421.2 3127.2,422.4 3155.6,429.6 3183.4,438.4 3233.8,457.5 3256.3,465.1 3269.5,468.8 3280.5,471.4 3293.7,473.9 3306.9,475.9 3328.9,478.0 3355.4,479.3 3388.4,479.9 3443.5,480.1 3469.9,479.8 3496.3,479.0 3522.8,477.7 3551.4,475.7L3554.4,475.7L3554.4,78.6Z" fill="#e40000"/>
<path d="M2667.4,78.6L2667.4,450.5L2670.4,450.5 2696.8,452.4 2723.3,453.8 2749.7,454.7 2776.1,455.0 2829.0,454.9 2862.0,454.4 2888.4,453.2 2910.5,451.3 2923.7,449.5 2936.9,447.2 2950.1,444.3 2963.3,440.7 2986.2,433.1 3035.6,414.5 3048.1,410.4 3059.6,407.2 3072.1,404.5 3084.5,402.6 3097.0,401.6 3110.9,401.3 3124.8,401.6 3137.3,402.6 3149.7,404.5 3162.2,407.2 3173.7,410.4 3186.2,414.5 3235.6,433.1 3258.5,440.7 3271.7,444.3 3284.9,447.2 3298.1,449.5 3311.3,451.3 3333.4,453.2 3359.8,454.4 3392.8,454.9 3445.7,455.0 3472.1,454.7 3498.5,453.8 3525.0,452.4 3551.4,450.5L3554.4,450.5L3554.4,78.6Z" fill="#b20000"/>
<path d="M2667.4,78.6L2667.4,281.8L2670.4,281.8 2740.9,281.0 2804.8,279.8 2868.6,278.0 3020.8,272.6 3067.3,271.5 3110.9,271.2 3154.5,271.5 3201.0,272.6 3353.2,278.0 3417.0,279.8 3480.9,281.0 3551.4,281.8L3554.4,281.8L3554.4,78.6Z" fill="#e40000"/>
<path d="M2667.4,78.6L2667.4,218.5L2670.4,218.5 2804.8,217.4 3020.8,213.5 3110.9,212.8 3201.0,213.5 3417.0,217.4 3551.4,218.5L3554.4,218.5L3554.4,78.6Z" fill="#ff1700"/>
<path d="M2667.4,78.6L2667.4,148.4L2670.4,148.4 3110.9,147.1 3551.4,148.4L3554.4,148.4L3554.4,78.6Z" fill="#ff4a00"/>
<path d="M2936.9,353.1 2934.3,352.1 2925.1,350.9 2888.5,349.1 2833.4,347.9 2771.7,347.6 2696.3,348.2 2639.1,349.5 2604.0,351.4 2596.8,352.4 2595.7,352.8 2595.5,353.7 2595.9,356.4 2596.8,359.1 2599.1,363.1 2604.0,368.2 2609.0,372.0 2617.2,376.9 2624.6,380.4 2636.0,384.7 2649.0,388.8 2663.5,392.4 2675.3,394.8 2692.0,397.7 2709.7,400.0 2728.2,401.8 2747.3,403.1 2781.5,404.1 2809.9,403.3 2825.7,402.0 2841.0,400.3 2866.2,395.9 2879.3,392.8 2891.4,389.2 2899.7,386.3 2909.6,382.1 2918.1,377.5 2925.1,372.7 2929.3,368.9 2933.5,363.7 2936.1,358.4 2936.9,353.1Z" fill="#800000"/>
<path d="M3284.9,353.1 3287.5,352.1 3296.7,350.9 3333.3,349.1 3388.4,347.9 3450.1,347.6 3525.5,348.2 3582.7,349.5 3617.8,351.4 3625.0,352.4 3626.1,352.8 3626.3,353.7 3625.5,357.8 3622.7,363.1 3617.8,368.2 3612.8,372.0 3604.6,376.9 3597.2,380.4 3585.8,384.7 3572.8,388.8 3558.3,392.4 3546.5,394.8 3529.8,397.7 3512.1,400.0 3493.6,401.8 3474.5,403.1 3440.3,404.1 3411.9,403.3 3396.1,402.0 3380.8,400.3 3355.6,395.9 3342.5,392.8 3330.4,389.2 3322.1,386.3 3312.2,382.1 3303.7,377.5 3296.7,372.7 3292.5,368.9 3288.3,363.7 3285.7,358.4 3284.9,353.1Z" fill="#800000"/>
</g>
<rect x="2888.85" y="617.30" width="3.6" height="15.5" fill="#000"/>
<rect x="3109.10" y="617.30" width="3.6" height="15.5" fill="#000"/>
<rect x="3329.35" y="617.30" width="3.6" height="15.5" fill="#000"/>
<rect x="2670.40" y="217.60" width="15.5" height="3.6" fill="#000"/>
<rect x="2670.40" y="355.40" width="15.5" height="3.6" fill="#000"/>
<rect x="2670.40" y="493.20" width="15.5" height="3.6" fill="#000"/>
<rect x="2670.40" y="81.60" width="881.0" height="551.2" fill="none" stroke="#000" stroke-width="4.3"/>
<text transform="translate(2545.03,101.10) scale(1.1108,1)" font-size="60.15">650</text>
<text transform="translate(2543.98,238.90) scale(1.1228,1)" font-size="60.15">550</text>
<text transform="translate(2546.62,376.70) scale(1.0927,1)" font-size="60.15">450</text>
<text transform="translate(2544.69,514.50) scale(1.1146,1)" font-size="60.15">350</text>
<text transform="translate(2544.96,652.30) scale(1.1115,1)" font-size="60.15">250</text>
<text transform="translate(2650.01,698.30) scale(1.1078,1)" font-size="59.40">200</text>
<rect x="2601.00" y="681.30" width="39.0" height="3.3" fill="#000"/>
<text transform="translate(2869.49,698.30) scale(1.1126,1)" font-size="59.40">100</text>
<rect x="2820.90" y="681.30" width="39.5" height="3.3" fill="#000"/>
<text transform="translate(3094.10,698.30) scale(1.1043,1)" font-size="59.40">0</text>
<text transform="translate(3281.07,698.30) scale(1.1273,1)" font-size="59.40">100</text>
<text transform="translate(3502.10,698.30) scale(1.1114,1)" font-size="59.40">200</text>
<text transform="translate(2838.79,790.80) scale(1.2917,1)" font-size="56.78">Zonal distance/km</text>
<text transform="translate(2483.20,545.75) rotate(-90) scale(1.2380,1)" font-size="62.00">Altitude/km</text>
<text transform="translate(2972.96,49.50) scale(1.1842,1)" font-size="65.19" font-style="italic">t</text>
<rect x="3013.85" y="27.10" width="41.3" height="2.6" fill="#000"/>
<rect x="3013.85" y="39.20" width="41.3" height="2.6" fill="#000"/>
<text transform="translate(3066.76,49.50) scale(1.1086,1)" font-size="59.40">1500</text>
<text transform="translate(3221.46,49.50) scale(1.1991,1)" font-size="56.66">s</text>
<clipPath id="clip10"><rect x="235.40" y="945.60" width="881.0" height="551.2"/></clipPath>
<g clip-path="url(#clip10)">
<rect x="233.40" y="943.60" width="885.0" height="555.2" fill="#0000c0"/>
<path d="M232.4,942.6L232.4,1468.0L235.4,1468.0 314.7,1469.4 413.8,1469.2 486.5,1468.2 541.5,1466.0 586.9,1462.5 606.1,1460.3 622.4,1457.8 633.8,1455.5 644.0,1452.9 653.7,1449.8 669.5,1443.8 675.9,1442.4 682.3,1443.8 698.1,1449.8 707.8,1452.9 718.0,1455.5 729.4,1457.8 745.7,1460.3 764.9,1462.5 810.3,1466.0 865.3,1468.2 938.0,1469.2 1037.1,1469.4 1116.4,1468.0L1119.4,1468.0L1119.4,942.6Z" fill="#0000f2"/>
<path d="M232.4,942.6L232.4,1455.5L235.4,1455.5 323.5,1456.6 435.8,1455.9 495.3,1454.2 521.7,1452.7 544.6,1450.8 568.6,1448.1 591.1,1444.9 610.3,1441.3 626.3,1437.3 637.8,1433.6 647.9,1429.3 657.0,1424.4 671.1,1415.4 675.9,1413.4 680.7,1415.4 694.8,1424.4 703.9,1429.3 714.0,1433.6 725.5,1437.3 741.5,1441.3 760.7,1444.9 783.2,1448.1 807.2,1450.8 830.1,1452.7 856.5,1454.2 916.0,1455.9 1028.3,1456.6 1116.4,1455.5L1119.4,1455.5L1119.4,942.6Z" fill="#0026ff"/>
<path d="M232.4,942.6L232.4,1449.8L235.4,1449.8 279.4,1450.7 323.5,1451.1 387.4,1450.6 435.8,1449.8 468.9,1448.7 495.3,1447.3 521.7,1445.0 544.6,1442.3 570.6,1438.1 595.1,1433.1 616.0,1427.7 632.7,1421.9 644.8,1416.2 655.0,1409.7 662.7,1403.0 673.5,1391.3 675.9,1389.3 678.3,1391.3 689.1,1403.0 696.8,1409.7 707.0,1416.2 719.1,1421.9 735.8,1427.7 756.7,1433.1 781.2,1438.1 807.2,1442.3 830.1,1445.0 856.5,1447.3 882.9,1448.7 916.0,1449.8 964.4,1450.6 1028.3,1451.1 1072.4,1450.7 1116.4,1449.8L1119.4,1449.8L1119.4,942.6Z" fill="#0058ff"/>
<path d="M232.4,942.6L232.4,1447.6L235.4,1447.6 283.9,1448.8 332.3,1449.1 402.8,1448.4 449.0,1447.1 479.9,1445.3 508.5,1442.5 534.9,1438.7 561.8,1433.4 588.9,1426.4 612.5,1418.7 621.9,1414.9 630.1,1411.1 637.1,1407.2 643.3,1403.0 648.6,1398.6 653.2,1393.9 657.4,1388.7 661.1,1383.0 667.3,1370.6 675.9,1347.7 684.5,1370.6 690.7,1383.0 694.4,1388.7 698.6,1393.9 703.2,1398.6 708.5,1403.0 714.7,1407.2 721.7,1411.1 729.9,1414.9 739.3,1418.7 762.9,1426.4 790.0,1433.4 816.9,1438.7 843.3,1442.5 871.9,1445.3 902.8,1447.1 949.0,1448.4 1019.5,1449.1 1067.9,1448.8 1116.4,1447.6L1119.4,1447.6L1119.4,942.6Z" fill="#008aff"/>
<path d="M232.4,942.6L232.4,1443.4L235.4,1443.4 286.1,1445.0 334.5,1445.3 400.6,1444.0 446.8,1441.8 479.9,1438.7 508.5,1434.3 521.7,1431.6 534.9,1428.3 547.7,1424.5 559.8,1420.4 570.8,1415.9 581.4,1411.1 591.3,1405.8 600.8,1400.0 610.0,1393.6 618.9,1386.7 628.3,1378.2 634.3,1372.0 638.9,1364.9 642.9,1354.9 646.2,1343.0 654.8,1307.3 657.4,1298.5 660.0,1291.7 663.1,1286.1 666.6,1282.2 670.8,1280.0 675.9,1279.2 681.0,1280.0 685.2,1282.2 688.7,1286.1 691.8,1291.7 694.4,1298.5 697.0,1307.3 705.6,1343.0 708.9,1354.9 712.9,1364.9 717.5,1372.0 723.5,1378.2 732.9,1386.7 741.8,1393.6 751.0,1400.0 760.5,1405.8 770.4,1411.1 781.0,1415.9 792.0,1420.4 804.1,1424.5 816.9,1428.3 830.1,1431.6 843.3,1434.3 871.9,1438.7 905.0,1441.8 951.2,1444.0 1017.3,1445.3 1065.7,1445.0 1116.4,1443.4L1119.4,1443.4L1119.4,942.6Z" fill="#00bcff"/>
<path d="M232.4,942.6L232.4,1437.6L235.4,1437.6 283.9,1439.7 330.1,1440.3 394.0,1439.1 442.4,1436.9 475.5,1433.9 504.1,1429.7 517.3,1427.0 530.5,1423.8 543.8,1420.0 555.2,1416.1 566.4,1411.8 577.2,1407.0 587.4,1401.8 597.1,1396.2 606.5,1390.0 615.6,1383.2 624.8,1375.4 630.7,1369.5 633.6,1365.8 636.3,1361.5 640.9,1350.9 651.2,1317.8 655.9,1300.7 660.0,1289.8 663.1,1284.7 666.9,1281.0 671.1,1279.0 675.9,1278.3 680.7,1279.0 684.9,1281.0 688.7,1284.7 691.8,1289.8 695.9,1300.7 700.6,1317.8 710.9,1350.9 715.5,1361.5 718.2,1365.8 721.1,1369.5 727.0,1375.4 736.2,1383.2 745.3,1390.0 754.7,1396.2 764.4,1401.8 774.6,1407.0 785.4,1411.8 796.6,1416.1 808.0,1420.0 821.3,1423.8 834.5,1427.0 847.7,1429.7 876.3,1433.9 909.4,1436.9 957.8,1439.1 1021.7,1440.3 1067.9,1439.7 1116.4,1437.6L1119.4,1437.6L1119.4,942.6Z" fill="#00efff"/>
<path d="M232.4,942.6L232.4,1430.8L235.4,1430.8 283.9,1433.0 330.1,1433.7 394.0,1432.7 440.2,1430.7 473.3,1427.9 501.9,1423.7 515.1,1421.1 528.3,1418.0 541.5,1414.3 552.8,1410.7 564.2,1406.4 575.2,1401.7 585.6,1396.7 595.5,1391.2 604.8,1385.4 613.8,1378.9 622.8,1371.5 629.0,1365.7 632.1,1361.9 634.7,1357.9 639.8,1347.3 651.5,1313.7 656.1,1297.5 660.0,1288.0 663.1,1283.4 666.9,1280.0 670.8,1278.2 675.9,1277.5 681.0,1278.2 684.9,1280.0 688.7,1283.4 691.8,1288.0 695.7,1297.5 700.3,1313.7 712.0,1347.3 717.1,1357.9 719.7,1361.9 722.8,1365.7 729.0,1371.5 738.0,1378.9 747.0,1385.4 756.3,1391.2 766.2,1396.7 776.6,1401.7 787.6,1406.4 799.0,1410.7 810.3,1414.3 823.5,1418.0 836.7,1421.1 849.9,1423.7 878.5,1427.9 911.6,1430.7 957.8,1432.7 1021.7,1433.7 1067.9,1433.0 1116.4,1430.8L1119.4,1430.8L1119.4,942.6Z" fill="#22ffdd"/>
<path d="M232.4,942.6L232.4,1425.4L235.4,1425.4 281.7,1427.8 327.9,1428.6 391.8,1427.8 438.0,1425.9 471.1,1423.2 499.7,1419.2 526.1,1413.6 539.3,1410.0 551.0,1406.3 562.7,1402.1 573.7,1397.6 584.3,1392.6 594.2,1387.3 603.7,1381.6 612.5,1375.6 621.3,1368.7 627.4,1363.0 630.7,1359.2 633.8,1354.8 639.3,1343.7 650.6,1313.7 655.9,1295.7 659.6,1287.1 663.1,1282.1 666.6,1279.1 670.8,1277.3 675.9,1276.6 681.0,1277.3 685.2,1279.1 688.7,1282.1 692.2,1287.1 695.9,1295.7 701.2,1313.7 712.5,1343.7 718.0,1354.8 721.1,1359.2 724.4,1363.0 730.5,1368.7 739.3,1375.6 748.1,1381.6 757.6,1387.3 767.5,1392.6 778.1,1397.6 789.1,1402.1 800.8,1406.3 812.5,1410.0 825.7,1413.6 852.1,1419.2 880.7,1423.2 913.8,1425.9 960.0,1427.8 1023.9,1428.6 1070.1,1427.8 1116.4,1425.4L1119.4,1425.4L1119.4,942.6Z" fill="#54ffab"/>
<path d="M232.4,942.6L232.4,1418.8L235.4,1418.8 281.7,1421.3 327.9,1422.3 389.6,1421.6 435.8,1419.8 468.9,1417.1 497.5,1413.2 523.9,1407.8 547.9,1401.0 559.8,1396.9 571.3,1392.3 582.1,1387.5 592.2,1382.4 601.9,1376.8 610.9,1371.0 619.5,1364.6 625.9,1359.0 629.6,1354.9 632.7,1350.7 638.7,1339.6 649.9,1313.2 655.0,1295.8 657.2,1290.1 659.6,1285.4 663.1,1280.9 666.6,1278.1 671.1,1276.3 675.9,1275.7 680.7,1276.3 685.2,1278.1 688.7,1280.9 692.2,1285.4 694.6,1290.1 696.8,1295.8 701.9,1313.2 713.1,1339.6 719.1,1350.7 722.2,1354.9 725.9,1359.0 732.3,1364.6 740.9,1371.0 749.9,1376.8 759.6,1382.4 769.7,1387.5 780.5,1392.3 792.0,1396.9 803.9,1401.0 827.9,1407.8 854.3,1413.2 882.9,1417.1 916.0,1419.8 962.2,1421.6 1023.9,1422.3 1070.1,1421.3 1116.4,1418.8L1119.4,1418.8L1119.4,942.6Z" fill="#87ff78"/>
<path d="M232.4,942.6L232.4,1412.3L235.4,1412.3 281.7,1414.9 325.7,1416.0 385.2,1415.4 431.4,1413.8 464.5,1411.3 493.1,1407.6 519.5,1402.4 544.4,1395.7 556.5,1391.7 568.4,1387.2 579.7,1382.4 590.2,1377.3 600.1,1372.0 609.2,1366.4 617.8,1360.4 624.4,1355.0 628.3,1351.0 631.9,1346.4 635.2,1341.2 638.7,1334.6 649.2,1312.5 654.5,1294.6 657.0,1288.6 659.4,1284.2 662.9,1279.9 666.4,1277.2 671.1,1275.4 675.9,1274.9 680.7,1275.4 685.4,1277.2 688.9,1279.9 692.4,1284.2 694.8,1288.6 697.3,1294.6 702.6,1312.5 713.1,1334.6 716.6,1341.2 720.0,1346.4 723.5,1351.0 727.4,1355.0 734.0,1360.4 742.6,1366.4 751.7,1372.0 761.6,1377.3 772.1,1382.4 783.4,1387.2 795.3,1391.7 807.4,1395.7 832.3,1402.4 858.7,1407.6 887.3,1411.3 920.4,1413.8 966.6,1415.4 1026.1,1416.0 1070.1,1414.9 1116.4,1412.3L1119.4,1412.3L1119.4,942.6Z" fill="#b9ff46"/>
<path d="M232.4,942.6L232.4,1405.3L235.4,1405.3 279.4,1408.0 323.5,1409.2 380.8,1408.8 427.0,1407.4 460.1,1405.0 488.7,1401.5 515.1,1396.5 539.3,1390.2 564.0,1381.9 575.9,1377.2 586.9,1372.2 597.3,1367.0 606.7,1361.6 615.6,1355.9 622.2,1350.8 626.6,1346.7 630.3,1342.2 634.1,1336.7 638.0,1329.9 649.5,1308.7 654.5,1292.3 656.7,1287.2 659.2,1283.0 662.5,1279.1 666.2,1276.4 671.1,1274.5 675.9,1274.0 680.7,1274.5 685.6,1276.4 689.3,1279.1 692.6,1283.0 695.1,1287.2 697.3,1292.3 702.3,1308.7 713.8,1329.9 717.7,1336.7 721.5,1342.2 725.2,1346.7 729.6,1350.8 736.2,1355.9 745.1,1361.6 754.5,1367.0 764.9,1372.2 775.9,1377.2 787.8,1381.9 812.5,1390.2 836.7,1396.5 863.1,1401.5 891.7,1405.0 924.8,1407.4 971.0,1408.8 1028.3,1409.2 1072.4,1408.0 1116.4,1405.3L1119.4,1405.3L1119.4,942.6Z" fill="#ebff14"/>
<path d="M232.4,942.6L232.4,1397.1L235.4,1397.1 279.4,1399.9 321.3,1401.2 374.2,1400.9 420.4,1399.7 453.4,1397.6 482.1,1394.3 508.5,1389.7 532.7,1383.8 558.1,1375.8 582.3,1366.1 593.3,1361.0 603.4,1355.7 612.7,1350.2 619.7,1345.3 625.9,1339.8 631.4,1333.2 649.9,1304.1 654.5,1290.1 656.7,1285.4 659.2,1281.6 662.5,1278.0 666.2,1275.4 671.1,1273.7 675.9,1273.1 680.7,1273.7 685.6,1275.4 689.3,1278.0 692.6,1281.6 695.1,1285.4 697.3,1290.1 701.9,1304.1 720.4,1333.2 725.9,1339.8 732.1,1345.3 739.1,1350.2 748.4,1355.7 758.5,1361.0 769.5,1366.1 793.7,1375.8 819.1,1383.8 843.3,1389.7 869.7,1394.3 898.4,1397.6 931.4,1399.7 977.6,1400.9 1030.5,1401.2 1072.4,1399.9 1116.4,1397.1L1119.4,1397.1L1119.4,942.6Z" fill="#ffe100"/>
<path d="M232.4,942.6L232.4,1388.9L235.4,1388.9 277.2,1391.9 319.1,1393.4 367.6,1393.4 416.0,1392.2 449.0,1390.3 477.7,1387.2 504.1,1382.8 528.3,1377.1 554.3,1369.3 580.1,1359.6 603.4,1349.1 612.9,1344.0 619.7,1339.7 625.0,1335.4 629.9,1330.5 642.2,1314.5 649.2,1303.6 654.1,1289.0 656.5,1284.1 658.9,1280.5 662.0,1277.2 666.0,1274.6 671.1,1272.8 675.9,1272.3 680.7,1272.8 685.8,1274.6 689.8,1277.2 692.9,1280.5 695.3,1284.1 697.7,1289.0 702.6,1303.6 709.6,1314.5 721.9,1330.5 726.8,1335.4 732.1,1339.7 738.9,1344.0 748.4,1349.1 771.7,1359.6 797.5,1369.3 823.5,1377.1 847.7,1382.8 874.1,1387.2 902.8,1390.3 935.8,1392.2 984.2,1393.4 1032.7,1393.4 1074.6,1391.9 1116.4,1388.9L1119.4,1388.9L1119.4,942.6Z" fill="#ffae00"/>
<path d="M232.4,942.6L232.4,1379.5L235.4,1379.5 275.0,1382.6 314.7,1384.3 354.3,1384.5 407.2,1383.5 440.2,1381.9 468.9,1379.2 495.3,1375.2 519.5,1370.0 545.5,1362.7 573.0,1353.2 601.9,1341.4 612.5,1336.5 619.7,1332.4 624.8,1328.9 629.6,1324.8 643.7,1310.4 648.6,1303.0 651.9,1292.5 655.0,1285.2 657.2,1281.5 660.0,1278.0 664.0,1274.7 667.5,1272.9 671.7,1271.8 675.9,1271.4 680.1,1271.8 684.3,1272.9 687.8,1274.7 691.8,1278.0 694.6,1281.5 696.8,1285.2 699.9,1292.5 703.2,1303.0 708.1,1310.4 722.2,1324.8 727.0,1328.9 732.1,1332.4 739.3,1336.5 749.9,1341.4 778.8,1353.2 806.3,1362.7 832.3,1370.0 856.5,1375.2 882.9,1379.2 911.6,1381.9 944.6,1383.5 997.5,1384.5 1037.1,1384.3 1076.8,1382.6 1116.4,1379.5L1119.4,1379.5L1119.4,942.6Z" fill="#ff7c00"/>
<path d="M232.4,942.6L232.4,1369.2L235.4,1369.2 272.8,1372.4 310.3,1374.3 343.3,1374.8 394.0,1374.0 429.2,1372.6 457.9,1370.3 484.3,1366.9 508.5,1362.2 521.7,1359.0 537.1,1354.8 568.2,1344.5 609.2,1328.8 623.9,1322.4 636.9,1316.2 643.1,1309.8 647.9,1302.5 652.8,1288.0 655.2,1283.0 657.8,1279.2 661.1,1275.7 665.3,1273.0 670.8,1271.0 675.9,1270.5 681.0,1271.0 686.5,1273.0 690.7,1275.7 694.0,1279.2 696.6,1283.0 699.0,1288.0 703.9,1302.5 708.7,1309.8 714.9,1316.2 727.9,1322.4 742.6,1328.8 783.6,1344.5 814.7,1354.8 830.1,1359.0 843.3,1362.2 867.5,1366.9 893.9,1370.3 922.6,1372.6 957.8,1374.0 1008.5,1374.8 1041.5,1374.3 1079.0,1372.4 1116.4,1369.2L1119.4,1369.2L1119.4,942.6Z" fill="#ff4a00"/>
<path d="M232.4,942.6L232.4,1356.2L235.4,1356.2 270.6,1359.5 303.7,1361.5 334.5,1362.2 372.0,1361.9 409.4,1361.0 440.2,1359.2 466.7,1356.4 493.1,1352.1 519.5,1346.0 548.4,1337.3 576.3,1327.3 647.7,1300.2 650.8,1290.8 653.2,1285.0 655.9,1280.4 658.9,1276.7 663.1,1273.2 666.9,1271.3 671.3,1270.1 675.9,1269.7 680.5,1270.1 684.9,1271.3 688.7,1273.2 692.9,1276.7 695.9,1280.4 698.6,1285.0 701.0,1290.8 704.1,1300.2 775.5,1327.3 803.4,1337.3 832.3,1346.0 858.7,1352.1 885.1,1356.4 911.6,1359.2 942.4,1361.0 979.8,1361.9 1017.3,1362.2 1048.1,1361.5 1081.2,1359.5 1116.4,1356.2L1119.4,1356.2L1119.4,942.6Z" fill="#ff1700"/>
<path d="M232.4,942.6L232.4,1338.5L235.4,1338.5 264.0,1341.5 290.5,1343.5 316.9,1344.7 343.3,1345.0 387.4,1344.3 420.4,1343.0 449.0,1340.7 473.3,1337.5 488.7,1334.7 504.1,1331.3 519.5,1327.2 537.1,1321.6 556.1,1314.9 596.4,1299.2 614.2,1292.7 634.9,1286.2 654.1,1281.4 658.9,1275.5 663.6,1271.9 666.9,1270.4 670.0,1269.5 675.9,1268.8 681.8,1269.5 684.9,1270.4 688.2,1271.9 692.9,1275.5 697.7,1281.4 716.9,1286.2 737.6,1292.7 755.4,1299.2 795.7,1314.9 814.7,1321.6 832.3,1327.2 847.7,1331.3 863.1,1334.7 878.5,1337.5 902.8,1340.7 931.4,1343.0 964.4,1344.3 1008.5,1345.0 1034.9,1344.7 1061.3,1343.5 1087.8,1341.5 1116.4,1338.5L1119.4,1338.5L1119.4,942.6Z" fill="#e40000"/>
<path d="M232.4,942.6L232.4,1314.6L235.4,1314.6 261.8,1317.5 288.3,1319.5 314.7,1320.8 338.9,1321.1 378.6,1320.6 409.4,1319.5 435.8,1317.6 460.1,1314.7 477.7,1311.7 493.1,1308.3 508.5,1304.2 523.9,1299.3 550.8,1289.1 605.6,1265.6 618.4,1260.8 629.9,1257.1 642.0,1253.8 653.4,1251.5 664.7,1250.2 675.9,1249.7 687.1,1250.2 698.4,1251.5 709.8,1253.8 721.9,1257.1 733.4,1260.8 746.2,1265.6 801.0,1289.1 827.9,1299.3 843.3,1304.2 858.7,1308.3 874.1,1311.7 891.7,1314.7 916.0,1317.6 942.4,1319.5 973.2,1320.6 1012.9,1321.1 1037.1,1320.8 1063.5,1319.5 1090.0,1317.5 1116.4,1314.6L1119.4,1314.6L1119.4,942.6Z" fill="#b20000"/>
<path d="M232.4,942.6L232.4,1146.8L235.4,1146.8 305.9,1145.8 369.8,1144.1 433.6,1141.6 585.8,1134.2 632.3,1132.8 675.9,1132.3 719.5,1132.8 766.0,1134.2 918.2,1141.6 982.0,1144.1 1045.9,1145.8 1116.4,1146.8L1119.4,1146.8L1119.4,942.6Z" fill="#e40000"/>
<path d="M232.4,942.6L232.4,1084.0L235.4,1084.0 369.8,1082.8 585.8,1078.0 675.9,1077.1 766.0,1078.0 982.0,1082.8 1116.4,1084.0L1119.4,1084.0L1119.4,942.6Z" fill="#ff1700"/>
<path d="M232.4,942.6L232.4,1013.1L235.4,1013.1 675.9,1011.7 1116.4,1013.1L1119.4,1013.1L1119.4,942.6Z" fill="#ff4a00"/>
<path d="M498.8,1216.7 496.4,1215.6 487.9,1214.5 454.3,1212.6 403.6,1211.4 346.6,1211.2 275.6,1211.8 221.8,1213.1 188.8,1215.0 182.0,1216.0 180.9,1216.4 180.8,1217.3 182.0,1222.7 184.2,1226.6 188.8,1231.8 195.2,1236.9 201.2,1240.5 210.7,1245.1 221.8,1249.4 234.4,1253.3 248.4,1256.8 259.7,1259.2 288.2,1263.6 305.6,1265.4 323.6,1266.7 355.8,1267.6 382.0,1266.8 396.5,1265.6 410.6,1263.9 424.1,1261.6 436.8,1258.8 448.7,1255.5 456.9,1252.8 467.0,1248.9 475.7,1244.5 481.5,1241.1 487.9,1236.2 491.8,1232.5 495.7,1227.3 498.0,1222.0 498.8,1216.7Z" fill="#800000"/>
<path d="M853.0,1216.7 855.4,1215.6 863.9,1214.5 897.5,1212.6 948.2,1211.4 1005.2,1211.2 1076.2,1211.8 1130.0,1213.1 1163.0,1215.0 1169.8,1216.0 1170.9,1216.4 1171.0,1217.3 1170.3,1221.3 1167.6,1226.6 1163.0,1231.8 1156.6,1236.9 1148.4,1241.7 1138.5,1246.2 1130.0,1249.4 1117.4,1253.3 1103.4,1256.8 1092.1,1259.2 1063.6,1263.6 1046.2,1265.4 1028.2,1266.7 996.0,1267.6 969.8,1266.8 955.3,1265.6 941.2,1263.9 927.7,1261.6 915.0,1258.8 903.1,1255.5 894.9,1252.8 884.8,1248.9 876.1,1244.5 868.6,1239.9 863.9,1236.2 860.0,1232.5 856.1,1227.3 853.8,1222.0 853.0,1216.7Z" fill="#800000"/>
</g>
<rect x="453.85" y="1481.30" width="3.6" height="15.5" fill="#000"/>
<rect x="674.10" y="1481.30" width="3.6" height="15.5" fill="#000"/>
<rect x="894.35" y="1481.30" width="3.6" height="15.5" fill="#000"/>
<rect x="235.40" y="1081.60" width="15.5" height="3.6" fill="#000"/>
<rect x="235.40" y="1219.40" width="15.5" height="3.6" fill="#000"/>
<rect x="235.40" y="1357.20" width="15.5" height="3.6" fill="#000"/>
<rect x="235.40" y="945.60" width="881.0" height="551.2" fill="none" stroke="#000" stroke-width="4.3"/>
<text transform="translate(110.03,965.10) scale(1.1108,1)" font-size="60.15">650</text>
<text transform="translate(108.98,1102.90) scale(1.1228,1)" font-size="60.15">550</text>
<text transform="translate(111.62,1240.70) scale(1.0927,1)" font-size="60.15">450</text>
<text transform="translate(109.69,1378.50) scale(1.1146,1)" font-size="60.15">350</text>
<text transform="translate(109.96,1516.30) scale(1.1115,1)" font-size="60.15">250</text>
<text transform="translate(215.01,1562.30) scale(1.1078,1)" font-size="59.40">200</text>
<rect x="166.00" y="1545.30" width="39.0" height="3.3" fill="#000"/>
<text transform="translate(434.49,1562.30) scale(1.1126,1)" font-size="59.40">100</text>
<rect x="385.90" y="1545.30" width="39.5" height="3.3" fill="#000"/>
<text transform="translate(659.10,1562.30) scale(1.1043,1)" font-size="59.40">0</text>
<text transform="translate(846.07,1562.30) scale(1.1273,1)" font-size="59.40">100</text>
<text transform="translate(1067.10,1562.30) scale(1.1114,1)" font-size="59.40">200</text>
<text transform="translate(403.79,1654.80) scale(1.2917,1)" font-size="56.78">Zonal distance/km</text>
<text transform="translate(48.20,1409.75) rotate(-90) scale(1.2380,1)" font-size="62.00">Altitude/km</text>
<text transform="translate(537.96,913.50) scale(1.1842,1)" font-size="65.19" font-style="italic">t</text>
<rect x="578.85" y="891.10" width="41.3" height="2.6" fill="#000"/>
<rect x="578.85" y="903.20" width="41.3" height="2.6" fill="#000"/>
<text transform="translate(631.76,913.50) scale(1.1086,1)" font-size="59.40">1600</text>
<text transform="translate(786.46,913.50) scale(1.1991,1)" font-size="56.66">s</text>
<clipPath id="clip11"><rect x="1452.90" y="945.60" width="881.0" height="551.2"/></clipPath>
<g clip-path="url(#clip11)">
<rect x="1450.90" y="943.60" width="885.0" height="555.2" fill="#0000c0"/>
<path d="M1449.9,942.6L1449.9,1467.9L1452.9,1467.9 1534.4,1469.3 1642.3,1468.9 1712.8,1467.7 1765.0,1465.3 1787.9,1463.5 1808.6,1461.3 1826.4,1458.9 1841.6,1456.1 1852.4,1453.5 1862.1,1450.6 1871.4,1447.0 1887.0,1439.9 1890.5,1438.7 1893.4,1438.2 1896.3,1438.7 1899.8,1439.9 1915.4,1447.0 1924.7,1450.6 1934.4,1453.5 1945.2,1456.1 1960.4,1458.9 1978.2,1461.3 1998.9,1463.5 2021.8,1465.3 2074.0,1467.7 2144.5,1468.9 2252.4,1469.3 2333.9,1467.9L2336.9,1467.9L2336.9,942.6Z" fill="#0000f2"/>
<path d="M1449.9,942.6L1449.9,1455.4L1452.9,1455.4 1499.2,1456.1 1543.2,1456.4 1659.9,1455.3 1693.0,1454.4 1721.6,1453.1 1745.8,1451.3 1770.1,1448.9 1793.2,1445.8 1813.9,1442.1 1831.3,1438.0 1845.8,1433.4 1856.6,1428.9 1866.3,1423.6 1874.9,1417.6 1888.6,1406.3 1891.4,1404.5 1893.4,1403.8 1895.4,1404.5 1898.2,1406.3 1911.9,1417.6 1920.5,1423.6 1930.2,1428.9 1941.0,1433.4 1955.5,1438.0 1972.9,1442.1 1993.6,1445.8 2016.7,1448.9 2041.0,1451.3 2065.2,1453.1 2093.8,1454.4 2126.9,1455.3 2243.6,1456.4 2287.6,1456.1 2333.9,1455.4L2336.9,1455.4L2336.9,942.6Z" fill="#0026ff"/>
<path d="M1449.9,942.6L1449.9,1449.6L1452.9,1449.6 1501.4,1450.6 1549.8,1450.8 1620.3,1450.1 1668.7,1449.0 1701.8,1447.4 1730.4,1445.2 1756.8,1442.2 1782.2,1438.1 1806.6,1433.0 1827.8,1427.1 1844.3,1421.0 1851.3,1417.7 1857.5,1414.1 1862.8,1410.5 1867.6,1406.6 1872.0,1402.2 1876.0,1397.6 1882.4,1388.3 1891.4,1371.5 1893.4,1368.6 1895.4,1371.5 1904.4,1388.3 1910.8,1397.6 1914.8,1402.2 1919.2,1406.6 1924.0,1410.5 1929.3,1414.1 1935.5,1417.7 1942.5,1421.0 1959.0,1427.1 1980.2,1433.0 2004.6,1438.1 2030.0,1442.2 2056.4,1445.2 2085.0,1447.4 2118.1,1449.0 2166.5,1450.1 2237.0,1450.8 2285.4,1450.6 2333.9,1449.6L2336.9,1449.6L2336.9,942.6Z" fill="#0058ff"/>
<path d="M1449.9,942.6L1449.9,1446.8L1452.9,1446.8 1508.0,1447.9 1563.0,1447.8 1635.7,1446.3 1662.1,1445.2 1686.4,1443.7 1719.4,1440.3 1734.8,1438.1 1750.2,1435.3 1765.0,1432.0 1779.1,1428.3 1792.5,1424.2 1805.1,1419.7 1815.9,1415.3 1825.6,1410.6 1834.2,1405.8 1841.9,1400.6 1848.7,1395.1 1854.6,1389.2 1859.9,1382.9 1864.8,1375.8 1869.0,1368.4 1872.7,1360.3 1876.2,1351.1 1879.5,1340.7 1884.6,1320.5 1891.9,1283.4 1893.4,1277.4 1894.9,1283.4 1902.2,1320.5 1907.3,1340.7 1910.6,1351.1 1914.1,1360.3 1917.8,1368.4 1922.0,1375.8 1926.9,1382.9 1932.2,1389.2 1938.1,1395.1 1944.9,1400.6 1952.6,1405.8 1961.2,1410.6 1970.9,1415.3 1981.7,1419.7 1994.3,1424.2 2007.7,1428.3 2021.8,1432.0 2036.6,1435.3 2052.0,1438.1 2067.4,1440.3 2100.4,1443.7 2124.7,1445.2 2151.1,1446.3 2223.8,1447.8 2278.8,1447.9 2333.9,1446.8L2336.9,1446.8L2336.9,942.6Z" fill="#008aff"/>
<path d="M1449.9,942.6L1449.9,1443.4L1452.9,1443.4 1508.0,1445.1 1563.0,1445.2 1633.5,1443.4 1659.9,1442.1 1684.2,1440.1 1701.8,1438.1 1719.4,1435.5 1734.8,1432.5 1750.2,1428.9 1764.6,1424.8 1778.0,1420.1 1790.8,1414.9 1802.7,1409.2 1819.2,1399.5 1834.4,1388.3 1841.9,1381.9 1847.4,1376.5 1850.7,1372.3 1853.1,1367.9 1856.6,1357.7 1859.9,1342.2 1863.0,1322.4 1871.2,1262.5 1874.0,1245.8 1876.7,1234.0 1880.0,1224.0 1883.5,1218.0 1885.5,1216.0 1887.7,1214.7 1890.3,1213.9 1893.4,1213.6 1896.5,1213.9 1899.1,1214.7 1901.3,1216.0 1903.3,1218.0 1906.8,1224.0 1910.1,1234.0 1912.8,1245.8 1915.6,1262.5 1923.8,1322.4 1926.9,1342.2 1930.2,1357.7 1933.7,1367.9 1936.1,1372.3 1939.4,1376.5 1944.9,1381.9 1952.4,1388.3 1967.6,1399.5 1984.1,1409.2 1996.0,1414.9 2008.8,1420.1 2022.2,1424.8 2036.6,1428.9 2052.0,1432.5 2067.4,1435.5 2085.0,1438.1 2102.6,1440.1 2126.9,1442.1 2153.3,1443.4 2223.8,1445.2 2278.8,1445.1 2333.9,1443.4L2336.9,1443.4L2336.9,942.6Z" fill="#00bcff"/>
<path d="M1449.9,942.6L1449.9,1437.5L1452.9,1437.5 1505.8,1439.6 1556.4,1440.0 1626.9,1438.2 1653.3,1436.9 1677.6,1435.0 1695.2,1433.0 1710.6,1430.7 1726.0,1427.9 1741.4,1424.3 1756.8,1420.0 1769.6,1415.6 1782.6,1410.4 1794.7,1404.7 1803.8,1399.8 1812.3,1394.5 1820.5,1388.9 1828.2,1382.9 1836.4,1375.9 1843.0,1369.4 1846.9,1364.6 1850.0,1359.6 1852.7,1353.6 1855.3,1345.7 1860.8,1322.5 1865.0,1301.6 1869.0,1271.9 1872.0,1252.1 1874.2,1240.7 1876.7,1231.1 1880.0,1222.0 1883.5,1216.7 1885.7,1214.8 1887.9,1213.7 1890.5,1213.0 1893.4,1212.8 1896.3,1213.0 1898.9,1213.7 1901.1,1214.8 1903.3,1216.7 1906.8,1222.0 1910.1,1231.1 1912.6,1240.7 1914.8,1252.1 1917.8,1271.9 1921.8,1301.6 1926.0,1322.5 1931.5,1345.7 1934.1,1353.6 1936.8,1359.6 1939.9,1364.6 1943.8,1369.4 1950.4,1375.9 1958.6,1382.9 1966.3,1388.9 1974.5,1394.5 1983.0,1399.8 1992.1,1404.7 2004.2,1410.4 2017.2,1415.6 2030.0,1420.0 2045.4,1424.3 2060.8,1427.9 2076.2,1430.7 2091.6,1433.0 2109.2,1435.0 2133.5,1436.9 2159.9,1438.2 2230.4,1440.0 2281.0,1439.6 2333.9,1437.5L2336.9,1437.5L2336.9,942.6Z" fill="#00efff"/>
<path d="M1449.9,942.6L1449.9,1430.7L1452.9,1430.7 1505.8,1433.0 1556.4,1433.5 1626.9,1431.9 1653.3,1430.6 1675.4,1428.9 1693.0,1427.0 1710.6,1424.5 1726.0,1421.6 1741.4,1418.1 1754.6,1414.4 1769.0,1409.6 1781.7,1404.6 1793.8,1399.0 1802.9,1394.2 1811.5,1389.1 1819.6,1383.7 1827.5,1377.7 1835.3,1371.2 1841.4,1365.2 1845.4,1360.5 1848.7,1355.2 1852.2,1347.1 1855.5,1336.7 1864.5,1298.4 1870.9,1253.8 1873.6,1240.0 1876.4,1229.1 1879.5,1221.1 1881.3,1218.1 1883.3,1215.7 1885.5,1213.9 1887.7,1212.8 1890.3,1212.1 1893.4,1211.9 1896.5,1212.1 1899.1,1212.8 1901.3,1213.9 1903.5,1215.7 1905.5,1218.1 1907.3,1221.1 1910.4,1229.1 1913.2,1240.0 1915.9,1253.8 1922.3,1298.4 1931.3,1336.7 1934.6,1347.1 1938.1,1355.2 1941.4,1360.5 1945.4,1365.2 1951.5,1371.2 1959.3,1377.7 1967.2,1383.7 1975.3,1389.1 1983.9,1394.2 1993.0,1399.0 2005.1,1404.6 2017.8,1409.6 2032.2,1414.4 2045.4,1418.1 2060.8,1421.6 2076.2,1424.5 2093.8,1427.0 2111.4,1428.9 2133.5,1430.6 2159.9,1431.9 2230.4,1433.5 2281.0,1433.0 2333.9,1430.7L2336.9,1430.7L2336.9,942.6Z" fill="#22ffdd"/>
<path d="M1449.9,942.6L1449.9,1425.3L1452.9,1425.3 1503.6,1427.8 1554.2,1428.4 1626.9,1427.0 1653.3,1425.7 1675.4,1424.0 1693.0,1422.1 1708.4,1419.9 1723.8,1417.2 1739.2,1413.7 1754.6,1409.5 1767.6,1405.2 1780.9,1400.1 1793.4,1394.5 1802.7,1389.7 1811.2,1384.7 1819.4,1379.4 1827.1,1373.7 1834.4,1367.7 1840.1,1362.3 1844.1,1357.6 1847.4,1352.4 1850.7,1345.3 1854.0,1335.9 1862.6,1303.5 1863.9,1297.5 1867.9,1268.3 1870.7,1250.4 1873.4,1237.4 1876.2,1227.1 1879.3,1219.7 1883.0,1214.7 1885.3,1213.1 1887.7,1211.9 1893.4,1211.0 1899.1,1211.9 1901.5,1213.1 1903.8,1214.7 1907.5,1219.7 1910.6,1227.1 1913.4,1237.4 1916.1,1250.4 1918.9,1268.3 1922.9,1297.5 1924.2,1303.5 1932.8,1335.9 1936.1,1345.3 1939.4,1352.4 1942.7,1357.6 1946.7,1362.3 1952.4,1367.7 1959.7,1373.7 1967.4,1379.4 1975.6,1384.7 1984.1,1389.7 1993.4,1394.5 2005.9,1400.1 2019.2,1405.2 2032.2,1409.5 2047.6,1413.7 2063.0,1417.2 2078.4,1419.9 2093.8,1422.1 2111.4,1424.0 2133.5,1425.7 2159.9,1427.0 2232.6,1428.4 2283.2,1427.8 2333.9,1425.3L2336.9,1425.3L2336.9,942.6Z" fill="#54ffab"/>
<path d="M1449.9,942.6L1449.9,1418.7L1452.9,1418.7 1503.6,1421.3 1554.2,1422.1 1624.7,1420.8 1651.1,1419.6 1673.2,1418.0 1690.8,1416.1 1706.2,1414.0 1721.6,1411.3 1737.0,1408.0 1752.4,1403.8 1766.1,1399.5 1779.8,1394.4 1792.7,1388.7 1810.8,1379.0 1819.2,1373.7 1826.9,1368.2 1833.7,1362.7 1839.0,1357.7 1843.0,1353.1 1846.3,1348.0 1849.8,1340.7 1853.1,1331.9 1862.6,1299.9 1869.8,1250.8 1872.7,1236.8 1875.8,1226.0 1878.9,1218.8 1882.6,1214.0 1885.0,1212.2 1887.5,1211.1 1893.4,1210.1 1899.3,1211.1 1901.8,1212.2 1904.2,1214.0 1907.9,1218.8 1911.0,1226.0 1914.1,1236.8 1917.0,1250.8 1924.2,1299.9 1933.7,1331.9 1937.0,1340.7 1940.5,1348.0 1943.8,1353.1 1947.8,1357.7 1953.1,1362.7 1959.9,1368.2 1967.6,1373.7 1976.0,1379.0 1994.1,1388.7 2007.0,1394.4 2020.7,1399.5 2034.4,1403.8 2049.8,1408.0 2065.2,1411.3 2080.6,1414.0 2096.0,1416.1 2113.7,1418.0 2135.7,1419.6 2162.1,1420.8 2232.6,1422.1 2283.2,1421.3 2333.9,1418.7L2336.9,1418.7L2336.9,942.6Z" fill="#87ff78"/>
<path d="M1449.9,942.6L1449.9,1412.2L1452.9,1412.2 1503.6,1415.0 1552.0,1415.9 1622.5,1414.7 1648.9,1413.5 1670.9,1412.0 1688.6,1410.2 1706.2,1407.8 1721.6,1405.0 1737.0,1401.7 1752.4,1397.5 1765.7,1393.3 1779.3,1388.3 1792.1,1382.8 1810.6,1373.2 1819.0,1368.1 1826.7,1362.7 1833.3,1357.5 1838.1,1353.0 1842.1,1348.4 1845.4,1343.4 1848.7,1337.0 1852.2,1328.4 1861.7,1300.1 1869.4,1248.7 1872.3,1235.2 1875.6,1224.2 1878.6,1217.5 1882.4,1213.0 1884.6,1211.5 1887.2,1210.2 1890.1,1209.5 1893.4,1209.3 1896.7,1209.5 1899.6,1210.2 1902.2,1211.5 1904.4,1213.0 1908.2,1217.5 1911.2,1224.2 1914.5,1235.2 1917.4,1248.7 1925.1,1300.1 1934.6,1328.4 1938.1,1337.0 1941.4,1343.4 1944.7,1348.4 1948.7,1353.0 1953.5,1357.5 1960.1,1362.7 1967.8,1368.1 1976.2,1373.2 1994.7,1382.8 2007.5,1388.3 2021.1,1393.3 2034.4,1397.5 2049.8,1401.7 2065.2,1405.0 2080.6,1407.8 2098.2,1410.2 2115.9,1412.0 2137.9,1413.5 2164.3,1414.7 2234.8,1415.9 2283.2,1415.0 2333.9,1412.2L2336.9,1412.2L2336.9,942.6Z" fill="#b9ff46"/>
<path d="M1449.9,942.6L1449.9,1405.2L1452.9,1405.2 1503.6,1408.2 1552.0,1409.2 1620.3,1408.1 1646.7,1407.0 1668.7,1405.5 1686.4,1403.7 1704.0,1401.4 1719.4,1398.7 1734.8,1395.3 1750.2,1391.3 1763.9,1387.0 1777.8,1382.0 1791.0,1376.5 1809.9,1367.1 1818.5,1362.0 1826.2,1356.8 1832.4,1352.1 1837.0,1347.9 1840.8,1343.6 1844.3,1338.5 1847.6,1332.4 1851.1,1324.6 1861.5,1297.2 1865.6,1266.8 1868.5,1249.1 1871.6,1234.6 1875.1,1223.0 1878.2,1216.7 1882.2,1212.1 1884.4,1210.6 1887.0,1209.4 1890.1,1208.7 1893.4,1208.4 1896.7,1208.7 1899.8,1209.4 1902.4,1210.6 1904.6,1212.1 1908.6,1216.7 1911.7,1223.0 1915.2,1234.6 1918.3,1249.1 1921.2,1266.8 1925.3,1297.2 1935.7,1324.6 1939.2,1332.4 1942.5,1338.5 1946.0,1343.6 1949.8,1347.9 1954.4,1352.1 1960.6,1356.8 1968.3,1362.0 1976.9,1367.1 1995.8,1376.5 2009.0,1382.0 2022.9,1387.0 2036.6,1391.3 2052.0,1395.3 2067.4,1398.7 2082.8,1401.4 2100.4,1403.7 2118.1,1405.5 2140.1,1407.0 2166.5,1408.1 2234.8,1409.2 2283.2,1408.2 2333.9,1405.2L2336.9,1405.2L2336.9,942.6Z" fill="#ebff14"/>
<path d="M1449.9,942.6L1449.9,1397.0L1452.9,1397.0 1501.4,1400.0 1549.8,1401.2 1618.1,1400.2 1644.5,1399.1 1666.5,1397.7 1684.2,1395.9 1699.6,1393.9 1715.0,1391.4 1730.4,1388.2 1745.8,1384.3 1761.2,1379.6 1775.3,1374.7 1789.0,1369.2 1808.6,1359.8 1817.4,1354.8 1825.3,1349.8 1831.1,1345.6 1835.7,1341.6 1839.7,1337.3 1843.2,1332.4 1850.0,1319.7 1861.0,1294.2 1865.2,1264.3 1868.1,1247.1 1871.2,1233.2 1874.9,1221.4 1878.0,1215.5 1881.9,1211.2 1884.1,1209.7 1887.0,1208.5 1889.9,1207.8 1893.4,1207.5 1896.9,1207.8 1899.8,1208.5 1902.7,1209.7 1904.9,1211.2 1908.8,1215.5 1911.9,1221.4 1915.6,1233.2 1918.7,1247.1 1921.6,1264.3 1925.8,1294.2 1936.8,1319.7 1943.6,1332.4 1947.1,1337.3 1951.1,1341.6 1955.7,1345.6 1961.5,1349.8 1969.4,1354.8 1978.2,1359.8 1997.8,1369.2 2011.5,1374.7 2025.6,1379.6 2041.0,1384.3 2056.4,1388.2 2071.8,1391.4 2087.2,1393.9 2102.6,1395.9 2120.3,1397.7 2142.3,1399.1 2168.7,1400.2 2237.0,1401.2 2285.4,1400.0 2333.9,1397.0L2336.9,1397.0L2336.9,942.6Z" fill="#ffe100"/>
<path d="M1449.9,942.6L1449.9,1388.8L1452.9,1388.8 1501.4,1392.2 1547.6,1393.5 1615.9,1392.6 1642.3,1391.6 1664.3,1390.1 1682.0,1388.5 1699.6,1386.2 1715.0,1383.5 1730.4,1380.3 1745.8,1376.4 1759.0,1372.4 1774.0,1367.3 1788.8,1361.6 1809.7,1352.1 1819.0,1347.1 1826.9,1342.4 1832.2,1338.6 1836.6,1334.8 1840.3,1330.7 1844.1,1325.6 1848.5,1318.4 1853.8,1308.4 1860.1,1294.2 1864.5,1263.3 1867.6,1245.2 1870.5,1232.6 1874.5,1220.3 1877.8,1214.4 1880.2,1211.6 1882.4,1209.8 1887.0,1207.6 1893.4,1206.7 1899.8,1207.6 1904.4,1209.8 1906.6,1211.6 1909.0,1214.4 1912.3,1220.3 1916.3,1232.6 1919.2,1245.2 1922.3,1263.3 1926.7,1294.2 1933.0,1308.4 1938.3,1318.4 1942.7,1325.6 1946.5,1330.7 1950.2,1334.8 1954.6,1338.6 1959.9,1342.4 1967.8,1347.1 1977.1,1352.1 1998.0,1361.6 2012.8,1367.3 2027.8,1372.4 2041.0,1376.4 2056.4,1380.3 2071.8,1383.5 2087.2,1386.2 2104.8,1388.5 2122.5,1390.1 2144.5,1391.6 2170.9,1392.6 2239.2,1393.5 2285.4,1392.2 2333.9,1388.8L2336.9,1388.8L2336.9,942.6Z" fill="#ffae00"/>
<path d="M1449.9,942.6L1449.9,1379.4L1452.9,1379.4 1477.1,1381.5 1501.4,1383.0 1525.6,1384.0 1547.6,1384.5 1613.7,1383.7 1640.1,1382.7 1662.1,1381.3 1679.8,1379.6 1695.2,1377.7 1710.6,1375.1 1726.0,1372.0 1741.4,1368.2 1756.8,1363.8 1771.6,1358.9 1786.4,1353.4 1809.7,1343.3 1820.1,1338.2 1827.8,1333.8 1833.1,1330.2 1837.7,1326.3 1841.9,1321.8 1846.3,1316.2 1856.4,1300.8 1859.5,1293.6 1863.7,1263.8 1866.7,1245.5 1869.8,1232.0 1873.8,1219.8 1877.1,1213.8 1879.7,1210.8 1882.2,1208.9 1886.8,1206.8 1893.4,1205.8 1900.0,1206.8 1904.6,1208.9 1907.1,1210.8 1909.7,1213.8 1913.0,1219.8 1917.0,1232.0 1920.1,1245.5 1923.1,1263.8 1927.3,1293.6 1930.4,1300.8 1940.5,1316.2 1944.9,1321.8 1949.1,1326.3 1953.7,1330.2 1959.0,1333.8 1966.7,1338.2 1977.1,1343.3 2000.4,1353.4 2015.2,1358.9 2030.0,1363.8 2045.4,1368.2 2060.8,1372.0 2076.2,1375.1 2091.6,1377.7 2107.0,1379.6 2124.7,1381.3 2146.7,1382.7 2173.1,1383.7 2239.2,1384.5 2261.2,1384.0 2285.4,1383.0 2309.7,1381.5 2333.9,1379.4L2336.9,1379.4L2336.9,942.6Z" fill="#ff7c00"/>
<path d="M1449.9,942.6L1449.9,1369.1L1452.9,1369.1 1477.1,1371.4 1499.2,1372.9 1523.4,1374.1 1545.4,1374.6 1609.3,1374.0 1633.5,1373.1 1655.5,1371.9 1673.2,1370.3 1688.6,1368.5 1704.0,1366.2 1719.4,1363.2 1734.8,1359.6 1750.2,1355.4 1765.0,1350.7 1780.4,1345.2 1801.1,1337.1 1820.1,1328.6 1835.0,1320.9 1847.1,1313.5 1855.7,1300.3 1858.6,1293.6 1863.0,1262.8 1866.1,1244.7 1869.0,1232.3 1873.1,1219.3 1876.4,1213.3 1879.1,1210.3 1881.7,1208.2 1886.6,1205.9 1889.7,1205.2 1893.4,1204.9 1897.1,1205.2 1900.2,1205.9 1905.1,1208.2 1907.7,1210.3 1910.4,1213.3 1913.7,1219.3 1917.8,1232.3 1920.7,1244.7 1923.8,1262.8 1928.2,1293.6 1931.1,1300.3 1939.7,1313.5 1951.8,1320.9 1966.7,1328.6 1985.7,1337.1 2006.4,1345.2 2021.8,1350.7 2036.6,1355.4 2052.0,1359.6 2067.4,1363.2 2082.8,1366.2 2098.2,1368.5 2113.7,1370.3 2131.3,1371.9 2153.3,1373.1 2177.5,1374.0 2241.4,1374.6 2263.4,1374.1 2287.6,1372.9 2309.7,1371.4 2333.9,1369.1L2336.9,1369.1L2336.9,942.6Z" fill="#ff4a00"/>
<path d="M1449.9,942.6L1449.9,1356.1L1452.9,1356.1 1474.9,1358.3 1497.0,1360.1 1538.8,1361.9 1560.8,1362.1 1593.9,1361.7 1642.3,1360.0 1675.4,1357.1 1690.8,1355.1 1706.2,1352.5 1732.6,1346.5 1745.8,1342.7 1761.2,1337.7 1789.4,1327.0 1818.5,1314.2 1839.4,1303.4 1858.2,1291.8 1862.1,1263.2 1865.2,1245.1 1868.1,1232.5 1872.3,1219.3 1875.8,1212.8 1878.6,1209.6 1881.1,1207.6 1886.1,1205.1 1889.4,1204.4 1893.4,1204.1 1897.4,1204.4 1900.7,1205.1 1905.7,1207.6 1908.2,1209.6 1911.0,1212.8 1914.5,1219.3 1918.7,1232.5 1921.6,1245.1 1924.7,1263.2 1928.6,1291.8 1947.4,1303.4 1968.3,1314.2 1997.4,1327.0 2025.6,1337.7 2041.0,1342.7 2054.2,1346.5 2080.6,1352.5 2096.0,1355.1 2111.4,1357.1 2144.5,1360.0 2192.9,1361.7 2226.0,1362.1 2248.0,1361.9 2289.9,1360.1 2311.9,1358.3 2333.9,1356.1L2336.9,1356.1L2336.9,942.6Z" fill="#ff1700"/>
<path d="M1449.9,942.6L1449.9,1338.4L1452.9,1338.4 1492.5,1342.4 1532.2,1344.5 1571.8,1344.8 1624.7,1343.5 1657.7,1341.3 1686.4,1337.9 1712.8,1332.9 1726.0,1329.6 1739.2,1325.8 1765.4,1316.8 1795.2,1304.5 1830.8,1288.0 1859.7,1273.0 1863.2,1251.4 1865.9,1238.1 1869.8,1223.8 1872.7,1216.3 1874.7,1212.9 1877.1,1210.0 1881.5,1206.3 1886.6,1204.1 1893.4,1203.2 1900.2,1204.1 1905.3,1206.3 1909.7,1210.0 1912.1,1212.9 1914.1,1216.3 1917.0,1223.8 1920.9,1238.1 1923.6,1251.4 1927.1,1273.0 1956.0,1288.0 1991.6,1304.5 2021.4,1316.8 2047.6,1325.8 2060.8,1329.6 2074.0,1332.9 2100.4,1337.9 2129.1,1341.3 2162.1,1343.5 2215.0,1344.8 2254.6,1344.5 2294.3,1342.4 2333.9,1338.4L2336.9,1338.4L2336.9,942.6Z" fill="#e40000"/>
<path d="M1449.9,942.6L1449.9,1314.6L1452.9,1314.6 1490.3,1318.4 1525.6,1320.5 1556.4,1321.1 1600.5,1320.4 1635.7,1318.9 1664.3,1316.4 1690.8,1312.6 1715.0,1307.4 1739.2,1300.4 1765.4,1290.7 1785.5,1282.2 1841.2,1257.0 1863.0,1247.7 1865.9,1234.7 1869.2,1223.2 1871.4,1217.2 1873.8,1212.7 1877.8,1208.0 1881.7,1205.2 1887.7,1203.0 1893.4,1202.3 1899.1,1203.0 1905.1,1205.2 1909.0,1208.0 1913.0,1212.7 1915.4,1217.2 1917.6,1223.2 1920.9,1234.7 1923.8,1247.7 1945.6,1257.0 2001.3,1282.2 2021.4,1290.7 2047.6,1300.4 2071.8,1307.4 2096.0,1312.6 2122.5,1316.4 2151.1,1318.9 2186.3,1320.4 2230.4,1321.1 2261.2,1320.5 2296.5,1318.4 2333.9,1314.6L2336.9,1314.6L2336.9,942.6Z" fill="#b20000"/>
<path d="M1449.9,942.6L1449.9,1146.7L1452.9,1146.7 1523.4,1145.3 1587.3,1143.0 1651.1,1139.6 1761.2,1132.0 1803.3,1129.5 1849.8,1127.6 1893.4,1126.9 1937.0,1127.6 1983.5,1129.5 2025.6,1132.0 2135.7,1139.6 2199.5,1143.0 2263.4,1145.3 2333.9,1146.7L2336.9,1146.7L2336.9,942.6Z" fill="#e40000"/>
<path d="M1449.9,942.6L1449.9,1084.4L1452.9,1084.4 1523.4,1083.7 1587.3,1082.5 1651.1,1080.6 1803.3,1075.2 1849.8,1074.2 1893.4,1073.9 1937.0,1074.2 1983.5,1075.2 2135.7,1080.6 2199.5,1082.5 2263.4,1083.7 2333.9,1084.4L2336.9,1084.4L2336.9,942.6Z" fill="#ff1700"/>
<path d="M1449.9,942.6L1449.9,1013.7L1452.9,1013.7 1587.3,1013.2 1803.3,1011.4 1893.4,1011.1 1983.5,1011.4 2199.5,1013.2 2333.9,1013.7L2336.9,1013.7L2336.9,942.6Z" fill="#ff4a00"/>
<path d="M1713.0,1218.0 1712.3,1217.5 1710.2,1216.9 1703.1,1215.9 1672.5,1214.0 1626.4,1212.8 1574.2,1212.5 1511.6,1213.1 1457.3,1214.5 1426.3,1216.4 1419.9,1217.4 1418.9,1217.8 1418.8,1218.7 1419.9,1223.9 1422.0,1227.7 1426.3,1232.8 1432.3,1237.7 1440.0,1242.4 1449.3,1246.8 1460.1,1250.9 1469.1,1253.7 1478.8,1256.3 1492.7,1259.4 1507.7,1262.0 1523.5,1264.2 1552.7,1266.7 1582.9,1267.6 1606.7,1266.9 1619.9,1265.7 1632.8,1264.0 1653.8,1259.7 1664.8,1256.7 1674.9,1253.2 1681.8,1250.4 1690.1,1246.2 1697.2,1241.8 1703.1,1237.1 1707.7,1232.2 1710.2,1228.4 1712.3,1223.2 1713.0,1218.0Z" fill="#800000"/>
<path d="M2073.8,1218.0 2074.5,1217.5 2076.6,1216.9 2083.7,1215.9 2114.3,1214.0 2160.4,1212.8 2212.6,1212.5 2275.2,1213.1 2329.5,1214.5 2360.5,1216.4 2366.9,1217.4 2367.9,1217.8 2368.0,1218.7 2366.9,1223.9 2364.8,1227.7 2360.5,1232.8 2354.5,1237.7 2346.8,1242.4 2337.5,1246.8 2326.7,1250.9 2317.7,1253.7 2308.0,1256.3 2294.1,1259.4 2279.1,1262.0 2263.3,1264.2 2234.1,1266.7 2203.9,1267.6 2180.1,1266.9 2166.9,1265.7 2154.0,1264.0 2133.0,1259.7 2122.0,1256.7 2111.9,1253.2 2102.8,1249.4 2096.7,1246.2 2089.6,1241.8 2083.7,1237.1 2079.1,1232.2 2076.6,1228.4 2074.5,1223.2 2073.8,1218.0Z" fill="#800000"/>
</g>
<rect x="1671.35" y="1481.30" width="3.6" height="15.5" fill="#000"/>
<rect x="1891.60" y="1481.30" width="3.6" height="15.5" fill="#000"/>
<rect x="2111.85" y="1481.30" width="3.6" height="15.5" fill="#000"/>
<rect x="1452.90" y="1081.60" width="15.5" height="3.6" fill="#000"/>
<rect x="1452.90" y="1219.40" width="15.5" height="3.6" fill="#000"/>
<rect x="1452.90" y="1357.20" width="15.5" height="3.6" fill="#000"/>
<rect x="1452.90" y="945.60" width="881.0" height="551.2" fill="none" stroke="#000" stroke-width="4.3"/>
<text transform="translate(1327.53,965.10) scale(1.1108,1)" font-size="60.15">650</text>
<text transform="translate(1326.48,1102.90) scale(1.1228,1)" font-size="60.15">550</text>
<text transform="translate(1329.12,1240.70) scale(1.0927,1)" font-size="60.15">450</text>
<text transform="translate(1327.19,1378.50) scale(1.1146,1)" font-size="60.15">350</text>
<text transform="translate(1327.46,1516.30) scale(1.1115,1)" font-size="60.15">250</text>
<text transform="translate(1432.51,1562.30) scale(1.1078,1)" font-size="59.40">200</text>
<rect x="1383.50" y="1545.30" width="39.0" height="3.3" fill="#000"/>
<text transform="translate(1651.99,1562.30) scale(1.1126,1)" font-size="59.40">100</text>
<rect x="1603.40" y="1545.30" width="39.5" height="3.3" fill="#000"/>
<text transform="translate(1876.60,1562.30) scale(1.1043,1)" font-size="59.40">0</text>
<text transform="translate(2063.57,1562.30) scale(1.1273,1)" font-size="59.40">100</text>
<text transform="translate(2284.60,1562.30) scale(1.1114,1)" font-size="59.40">200</text>
<text transform="translate(1621.29,1654.80) scale(1.2917,1)" font-size="56.78">Zonal distance/km</text>
<text transform="translate(1265.70,1409.75) rotate(-90) scale(1.2380,1)" font-size="62.00">Altitude/km</text>
<text transform="translate(1755.46,913.50) scale(1.1842,1)" font-size="65.19" font-style="italic">t</text>
<rect x="1796.35" y="891.10" width="41.3" height="2.6" fill="#000"/>
<rect x="1796.35" y="903.20" width="41.3" height="2.6" fill="#000"/>
<text transform="translate(1849.26,913.50) scale(1.1086,1)" font-size="59.40">1700</text>
<text transform="translate(2003.96,913.50) scale(1.1991,1)" font-size="56.66">s</text>
<clipPath id="clip12"><rect x="2670.40" y="945.60" width="881.0" height="551.2"/></clipPath>
<g clip-path="url(#clip12)">
<rect x="2668.40" y="943.60" width="885.0" height="555.2" fill="#0000c0"/>
<path d="M2667.4,942.6L2667.4,1467.7L2670.4,1467.7 2714.5,1468.7 2756.3,1469.1 2873.0,1468.4 2939.1,1466.8 2965.5,1465.5 2991.5,1463.5 3012.9,1461.3 3031.8,1458.7 3047.9,1455.7 3061.6,1452.3 3071.5,1449.0 3080.5,1445.1 3089.3,1440.4 3104.7,1430.8 3108.3,1429.2 3110.9,1428.6 3113.5,1429.2 3117.1,1430.8 3132.5,1440.4 3141.3,1445.1 3150.3,1449.0 3160.2,1452.3 3173.9,1455.7 3190.0,1458.7 3208.9,1461.3 3230.3,1463.5 3256.3,1465.5 3282.7,1466.8 3348.8,1468.4 3465.5,1469.1 3507.4,1468.7 3551.4,1467.7L3554.4,1467.7L3554.4,942.6Z" fill="#0000f2"/>
<path d="M2667.4,942.6L2667.4,1455.1L2670.4,1455.1 2718.9,1455.9 2765.1,1456.0 2837.8,1455.4 2888.4,1454.5 2921.5,1453.3 2950.1,1451.6 2976.5,1449.2 2999.9,1446.3 3022.4,1442.5 3041.7,1438.2 3057.6,1433.4 3070.6,1428.0 3080.5,1422.3 3089.3,1415.4 3096.8,1407.7 3108.0,1393.7 3110.9,1391.4 3113.8,1393.7 3125.0,1407.7 3132.5,1415.4 3141.3,1422.3 3151.2,1428.0 3164.2,1433.4 3180.1,1438.2 3199.4,1442.5 3221.9,1446.3 3245.3,1449.2 3271.7,1451.6 3300.3,1453.3 3333.4,1454.5 3384.0,1455.4 3456.7,1456.0 3502.9,1455.9 3551.4,1455.1L3554.4,1455.1L3554.4,942.6Z" fill="#0026ff"/>
<path d="M2667.4,942.6L2667.4,1448.8L2670.4,1448.8 2723.3,1449.7 2776.1,1449.6 2851.0,1448.4 2901.7,1446.6 2936.9,1444.0 2967.7,1440.4 2995.7,1435.7 3021.3,1429.7 3042.4,1423.0 3051.2,1419.5 3059.1,1415.7 3066.2,1411.7 3072.4,1407.5 3077.9,1402.9 3082.9,1397.8 3087.3,1392.3 3091.3,1386.3 3094.8,1379.8 3098.1,1372.4 3103.6,1356.3 3110.9,1328.7 3118.2,1356.3 3123.7,1372.4 3127.0,1379.8 3130.5,1386.3 3134.5,1392.3 3138.9,1397.8 3143.9,1402.9 3149.4,1407.5 3155.6,1411.7 3162.7,1415.7 3170.6,1419.5 3179.4,1423.0 3200.5,1429.7 3226.1,1435.7 3254.1,1440.4 3284.9,1444.0 3320.1,1446.6 3370.8,1448.4 3445.7,1449.6 3498.5,1449.7 3551.4,1448.8L3554.4,1448.8L3554.4,942.6Z" fill="#0058ff"/>
<path d="M2667.4,942.6L2667.4,1446.5L2670.4,1446.5 2707.8,1447.3 2743.1,1447.6 2820.2,1446.7 2881.8,1444.5 2906.1,1442.9 2928.1,1440.7 2947.9,1438.1 2965.5,1435.0 2983.8,1431.0 3001.4,1426.2 3018.2,1420.8 3033.8,1414.9 3047.7,1408.5 3059.6,1402.0 3066.4,1397.5 3072.8,1392.8 3078.5,1387.8 3083.8,1382.6 3087.1,1378.7 3089.3,1375.4 3091.1,1371.4 3092.4,1366.8 3094.6,1353.6 3096.8,1330.8 3103.0,1232.3 3105.2,1204.4 3106.5,1192.9 3107.8,1185.3 3109.1,1180.8 3110.9,1178.2 3112.7,1180.8 3114.0,1185.3 3115.3,1192.9 3116.6,1204.4 3118.8,1232.3 3125.0,1330.8 3127.2,1353.6 3129.4,1366.8 3130.7,1371.4 3132.5,1375.4 3134.7,1378.7 3138.0,1382.6 3143.3,1387.8 3149.0,1392.8 3155.4,1397.5 3162.2,1402.0 3174.1,1408.5 3188.0,1414.9 3203.6,1420.8 3220.4,1426.2 3238.0,1431.0 3256.3,1435.0 3273.9,1438.1 3293.7,1440.7 3315.7,1442.9 3340.0,1444.5 3401.6,1446.7 3478.7,1447.6 3514.0,1447.3 3551.4,1446.5L3554.4,1446.5L3554.4,942.6Z" fill="#008aff"/>
<path d="M2667.4,942.6L2667.4,1443.4L2670.4,1443.4 2703.4,1444.6 2736.5,1445.2 2767.3,1445.3 2802.6,1444.8 2840.0,1443.8 2868.6,1442.6 2892.9,1440.9 2914.9,1438.7 2934.7,1435.8 2952.3,1432.5 2967.7,1428.9 2983.8,1424.2 2998.6,1418.9 3012.4,1413.0 3025.4,1406.3 3037.3,1399.0 3051.9,1388.3 3065.3,1376.2 3068.0,1373.2 3070.2,1369.9 3072.1,1365.7 3073.7,1361.3 3076.8,1347.7 3079.8,1326.1 3082.7,1299.2 3090.4,1216.4 3093.1,1193.6 3095.5,1177.6 3098.3,1164.5 3099.9,1159.7 3101.6,1155.9 3103.4,1153.3 3105.4,1151.6 3107.8,1150.7 3110.9,1150.4 3114.0,1150.7 3116.4,1151.6 3118.4,1153.3 3120.2,1155.9 3121.9,1159.7 3123.5,1164.5 3126.3,1177.6 3128.7,1193.6 3131.4,1216.4 3139.1,1299.2 3142.0,1326.1 3145.0,1347.7 3148.1,1361.3 3149.7,1365.7 3151.6,1369.9 3153.8,1373.2 3156.5,1376.2 3169.9,1388.3 3184.5,1399.0 3196.4,1406.3 3209.4,1413.0 3223.2,1418.9 3238.0,1424.2 3254.1,1428.9 3269.5,1432.5 3287.1,1435.8 3306.9,1438.7 3328.9,1440.9 3353.2,1442.6 3381.8,1443.8 3419.2,1444.8 3454.5,1445.3 3485.3,1445.2 3518.4,1444.6 3551.4,1443.4L3554.4,1443.4L3554.4,942.6Z" fill="#00bcff"/>
<path d="M2667.4,942.6L2667.4,1437.5L2670.4,1437.5 2699.0,1438.8 2727.7,1439.7 2756.3,1440.0 2784.9,1439.8 2824.6,1438.9 2857.6,1437.6 2884.0,1435.9 2908.3,1433.5 2925.9,1431.1 2943.5,1427.9 2961.1,1423.8 2976.5,1419.3 2991.3,1414.0 3005.2,1408.1 3018.2,1401.5 3030.3,1394.2 3038.4,1388.6 3046.4,1382.4 3054.3,1375.5 3061.1,1368.9 3064.9,1364.5 3067.5,1360.7 3069.9,1356.0 3072.1,1350.2 3074.3,1342.6 3076.5,1332.9 3080.9,1307.8 3089.8,1214.0 3092.6,1190.2 3095.3,1173.9 3098.3,1161.4 3101.4,1154.4 3103.4,1152.0 3105.4,1150.5 3107.8,1149.7 3110.9,1149.4 3114.0,1149.7 3116.4,1150.5 3118.4,1152.0 3120.4,1154.4 3123.5,1161.4 3126.5,1173.9 3129.2,1190.2 3132.0,1214.0 3140.9,1307.8 3145.3,1332.9 3147.5,1342.6 3149.7,1350.2 3151.9,1356.0 3154.3,1360.7 3156.9,1364.5 3160.7,1368.9 3167.5,1375.5 3175.4,1382.4 3183.4,1388.6 3191.5,1394.2 3203.6,1401.5 3216.6,1408.1 3230.5,1414.0 3245.3,1419.3 3260.7,1423.8 3278.3,1427.9 3295.9,1431.1 3313.5,1433.5 3337.8,1435.9 3364.2,1437.6 3397.2,1438.9 3436.9,1439.8 3465.5,1440.0 3494.1,1439.7 3522.8,1438.8 3551.4,1437.5L3554.4,1437.5L3554.4,942.6Z" fill="#00efff"/>
<path d="M2667.4,942.6L2667.4,1430.7L2670.4,1430.7 2725.5,1433.0 2754.1,1433.5 2780.5,1433.4 2822.4,1432.6 2855.4,1431.4 2881.8,1429.8 2906.1,1427.5 2923.7,1425.2 2941.3,1422.1 2958.9,1418.1 2974.3,1413.7 2989.8,1408.4 3004.1,1402.5 3017.5,1395.8 3030.1,1388.4 3038.2,1382.9 3045.9,1377.0 3053.6,1370.4 3060.0,1364.2 3063.5,1360.1 3066.4,1355.8 3068.8,1351.0 3071.0,1345.3 3075.4,1329.0 3080.5,1303.0 3089.1,1211.7 3092.0,1188.4 3094.6,1172.6 3097.7,1160.6 3099.2,1156.6 3101.0,1153.4 3103.0,1151.1 3105.0,1149.7 3107.6,1148.8 3110.9,1148.4 3114.2,1148.8 3116.8,1149.7 3118.8,1151.1 3120.8,1153.4 3122.6,1156.6 3124.1,1160.6 3127.2,1172.6 3129.8,1188.4 3132.7,1211.7 3141.3,1303.0 3146.4,1329.0 3150.8,1345.3 3153.0,1351.0 3155.4,1355.8 3158.3,1360.1 3161.8,1364.2 3168.2,1370.4 3175.9,1377.0 3183.6,1382.9 3191.7,1388.4 3204.3,1395.8 3217.7,1402.5 3232.0,1408.4 3247.5,1413.7 3262.9,1418.1 3280.5,1422.1 3298.1,1425.2 3315.7,1427.5 3340.0,1429.8 3366.4,1431.4 3399.4,1432.6 3441.3,1433.4 3467.7,1433.5 3496.3,1433.0 3551.4,1430.7L3554.4,1430.7L3554.4,942.6Z" fill="#22ffdd"/>
<path d="M2667.4,942.6L2667.4,1425.3L2670.4,1425.3 2699.0,1426.9 2725.5,1427.9 2751.9,1428.4 2778.3,1428.4 2820.2,1427.7 2853.2,1426.6 2881.8,1424.9 2906.1,1422.6 2923.7,1420.3 2941.3,1417.2 2958.9,1413.2 2974.3,1408.8 2989.8,1403.5 3004.3,1397.6 3017.7,1391.0 3030.3,1383.8 3038.2,1378.5 3045.9,1372.7 3053.4,1366.3 3059.1,1360.8 3062.7,1356.6 3065.5,1352.2 3068.0,1347.3 3070.4,1340.9 3074.8,1325.3 3079.6,1302.7 3088.2,1211.5 3091.1,1188.2 3093.9,1171.4 3097.2,1159.1 3100.3,1152.7 3102.3,1150.4 3104.7,1148.7 3107.6,1147.8 3110.9,1147.5 3114.2,1147.8 3117.1,1148.7 3119.5,1150.4 3121.5,1152.7 3124.6,1159.1 3127.9,1171.4 3130.7,1188.2 3133.6,1211.5 3142.2,1302.7 3147.0,1325.3 3151.4,1340.9 3153.8,1347.3 3156.3,1352.2 3159.1,1356.6 3162.7,1360.8 3168.4,1366.3 3175.9,1372.7 3183.6,1378.5 3191.5,1383.8 3204.1,1391.0 3217.5,1397.6 3232.0,1403.5 3247.5,1408.8 3262.9,1413.2 3280.5,1417.2 3298.1,1420.3 3315.7,1422.6 3340.0,1424.9 3368.6,1426.6 3401.6,1427.7 3443.5,1428.4 3469.9,1428.4 3496.3,1427.9 3522.8,1426.9 3551.4,1425.3L3554.4,1425.3L3554.4,942.6Z" fill="#54ffab"/>
<path d="M2667.4,942.6L2667.4,1418.7L2670.4,1418.7 2699.0,1420.4 2725.5,1421.5 2751.9,1422.0 2778.3,1422.1 2820.2,1421.4 2853.2,1420.4 2879.6,1418.9 2903.9,1416.6 2923.7,1414.0 2941.3,1410.9 2958.9,1406.9 2974.3,1402.5 2989.8,1397.3 3004.5,1391.3 3018.2,1384.7 3030.5,1377.7 3038.4,1372.5 3045.9,1367.0 3053.0,1361.2 3058.3,1356.1 3061.8,1351.8 3064.6,1347.3 3067.3,1342.0 3069.9,1335.1 3073.9,1321.9 3078.7,1302.2 3087.6,1209.2 3090.4,1186.5 3093.3,1170.2 3096.6,1158.3 3099.7,1152.0 3101.9,1149.5 3104.3,1147.9 3107.4,1146.8 3110.9,1146.5 3114.4,1146.8 3117.5,1147.9 3119.9,1149.5 3122.1,1152.0 3125.2,1158.3 3128.5,1170.2 3131.4,1186.5 3134.2,1209.2 3143.1,1302.2 3147.9,1321.9 3151.9,1335.1 3154.5,1342.0 3157.2,1347.3 3160.0,1351.8 3163.5,1356.1 3168.8,1361.2 3175.9,1367.0 3183.4,1372.5 3191.3,1377.7 3203.6,1384.7 3217.3,1391.3 3232.0,1397.3 3247.5,1402.5 3262.9,1406.9 3280.5,1410.9 3298.1,1414.0 3317.9,1416.6 3342.2,1418.9 3368.6,1420.4 3401.6,1421.4 3443.5,1422.1 3469.9,1422.0 3496.3,1421.5 3522.8,1420.4 3551.4,1418.7L3554.4,1418.7L3554.4,942.6Z" fill="#87ff78"/>
<path d="M2667.4,942.6L2667.4,1412.2L2670.4,1412.2 2699.0,1414.0 2725.5,1415.1 2751.9,1415.7 2778.3,1415.8 2820.2,1415.2 2853.2,1414.2 2879.6,1412.7 2903.9,1410.4 2923.7,1407.8 2941.3,1404.6 2958.9,1400.6 2974.3,1396.2 2990.0,1390.9 3004.7,1385.0 3018.4,1378.5 3030.9,1371.5 3039.1,1366.3 3046.6,1360.9 3053.0,1355.6 3057.8,1350.9 3061.3,1346.5 3064.4,1341.5 3067.3,1335.6 3069.9,1328.8 3073.7,1317.1 3077.9,1301.9 3086.7,1209.0 3089.5,1186.3 3092.6,1169.0 3095.9,1157.5 3097.5,1153.9 3099.2,1151.0 3101.2,1148.8 3103.9,1147.0 3107.2,1145.9 3110.9,1145.5 3114.6,1145.9 3117.9,1147.0 3120.6,1148.8 3122.6,1151.0 3124.3,1153.9 3125.9,1157.5 3129.2,1169.0 3132.3,1186.3 3135.1,1209.0 3143.9,1301.9 3148.1,1317.1 3151.9,1328.8 3154.5,1335.6 3157.4,1341.5 3160.5,1346.5 3164.0,1350.9 3168.8,1355.6 3175.2,1360.9 3182.7,1366.3 3190.9,1371.5 3203.4,1378.5 3217.1,1385.0 3231.8,1390.9 3247.5,1396.2 3262.9,1400.6 3280.5,1404.6 3298.1,1407.8 3317.9,1410.4 3342.2,1412.7 3368.6,1414.2 3401.6,1415.2 3443.5,1415.8 3469.9,1415.7 3496.3,1415.1 3522.8,1414.0 3551.4,1412.2L3554.4,1412.2L3554.4,942.6Z" fill="#b9ff46"/>
<path d="M2667.4,942.6L2667.4,1405.2L2670.4,1405.2 2696.8,1407.0 2723.3,1408.3 2749.7,1409.0 2776.1,1409.1 2818.0,1408.6 2851.0,1407.6 2877.4,1406.2 2901.7,1404.0 2921.5,1401.4 2939.1,1398.2 2956.7,1394.3 2972.1,1390.0 2988.4,1384.6 3004.1,1378.4 3018.6,1371.7 3031.6,1364.6 3039.8,1359.5 3047.2,1354.2 3053.0,1349.5 3057.4,1345.1 3060.9,1340.5 3064.2,1334.9 3067.3,1328.4 3070.4,1320.4 3077.2,1299.4 3085.8,1208.8 3088.7,1186.1 3091.7,1168.9 3095.3,1156.7 3096.8,1153.1 3098.6,1150.3 3100.8,1148.0 3103.4,1146.2 3107.2,1144.9 3110.9,1144.6 3114.6,1144.9 3118.4,1146.2 3121.0,1148.0 3123.2,1150.3 3125.0,1153.1 3126.5,1156.7 3130.1,1168.9 3133.1,1186.1 3136.0,1208.8 3144.6,1299.4 3151.4,1320.4 3154.5,1328.4 3157.6,1334.9 3160.9,1340.5 3164.4,1345.1 3168.8,1349.5 3174.6,1354.2 3182.0,1359.5 3190.2,1364.6 3203.2,1371.7 3217.7,1378.4 3233.4,1384.6 3249.7,1390.0 3265.1,1394.3 3282.7,1398.2 3300.3,1401.4 3320.1,1404.0 3344.4,1406.2 3370.8,1407.6 3403.8,1408.6 3445.7,1409.1 3472.1,1409.0 3498.5,1408.3 3525.0,1407.0 3551.4,1405.2L3554.4,1405.2L3554.4,942.6Z" fill="#ebff14"/>
<path d="M2667.4,942.6L2667.4,1397.0L2670.4,1397.0 2696.8,1398.9 2723.3,1400.2 2749.7,1401.0 2776.1,1401.2 2818.0,1400.6 2851.0,1399.7 2877.4,1398.2 2901.7,1395.9 2921.5,1393.3 2939.1,1390.1 2956.7,1386.0 2972.1,1381.7 2988.4,1376.3 3004.3,1370.1 3018.8,1363.5 3032.1,1356.5 3040.6,1351.3 3047.9,1346.2 3053.2,1341.8 3057.6,1337.1 3061.3,1331.9 3064.9,1325.6 3068.4,1317.9 3072.4,1307.7 3076.8,1295.0 3085.1,1206.6 3088.0,1184.4 3091.1,1167.8 3094.6,1155.9 3096.1,1152.4 3097.9,1149.7 3100.1,1147.3 3103.0,1145.3 3106.9,1144.0 3110.9,1143.6 3114.9,1144.0 3118.8,1145.3 3121.7,1147.3 3123.9,1149.7 3125.7,1152.4 3127.2,1155.9 3130.7,1167.8 3133.8,1184.4 3136.7,1206.6 3145.0,1295.0 3149.4,1307.7 3153.4,1317.9 3156.9,1325.6 3160.5,1331.9 3164.2,1337.1 3168.6,1341.8 3173.9,1346.2 3181.2,1351.3 3189.7,1356.5 3203.0,1363.5 3217.5,1370.1 3233.4,1376.3 3249.7,1381.7 3265.1,1386.0 3282.7,1390.1 3300.3,1393.3 3320.1,1395.9 3344.4,1398.2 3370.8,1399.7 3403.8,1400.6 3445.7,1401.2 3472.1,1401.0 3498.5,1400.2 3525.0,1398.9 3551.4,1397.0L3554.4,1397.0L3554.4,942.6Z" fill="#ffe100"/>
<path d="M2667.4,942.6L2667.4,1388.8L2670.4,1388.8 2696.8,1390.9 2723.3,1392.4 2749.7,1393.2 2773.9,1393.5 2815.8,1393.0 2848.8,1392.1 2875.2,1390.7 2899.5,1388.5 2919.3,1385.8 2936.9,1382.7 2954.5,1378.7 2972.1,1373.9 2989.5,1368.1 3006.5,1361.6 3022.4,1354.6 3036.5,1347.3 3049.5,1339.2 3053.9,1335.5 3057.8,1331.3 3061.6,1326.3 3065.1,1320.4 3072.6,1304.5 3075.9,1294.7 3084.2,1206.3 3087.1,1184.2 3090.2,1167.7 3093.9,1155.1 3095.5,1151.6 3097.2,1149.0 3099.4,1146.6 3102.5,1144.5 3106.7,1143.0 3110.9,1142.6 3115.1,1143.0 3119.3,1144.5 3122.4,1146.6 3124.6,1149.0 3126.3,1151.6 3127.9,1155.1 3131.6,1167.7 3134.7,1184.2 3137.6,1206.3 3145.9,1294.7 3149.2,1304.5 3156.7,1320.4 3160.2,1326.3 3164.0,1331.3 3167.9,1335.5 3172.3,1339.2 3185.3,1347.3 3199.4,1354.6 3215.3,1361.6 3232.3,1368.1 3249.7,1373.9 3267.3,1378.7 3284.9,1382.7 3302.5,1385.8 3322.3,1388.5 3346.6,1390.7 3373.0,1392.1 3406.0,1393.0 3447.9,1393.5 3472.1,1393.2 3498.5,1392.4 3525.0,1390.9 3551.4,1388.8L3554.4,1388.8L3554.4,942.6Z" fill="#ffae00"/>
<path d="M2667.4,942.6L2667.4,1379.4L2670.4,1379.4 2696.8,1381.6 2723.3,1383.3 2749.7,1384.2 2773.9,1384.5 2815.8,1384.1 2848.8,1383.1 2875.2,1381.7 2899.5,1379.4 2919.3,1376.7 2936.9,1373.5 2954.5,1369.4 2972.1,1364.5 2990.2,1358.6 3008.5,1351.7 3025.9,1344.2 3040.9,1336.8 3051.2,1330.4 3055.2,1327.0 3058.7,1323.4 3062.4,1318.7 3066.4,1312.7 3072.1,1302.9 3073.2,1300.0 3075.0,1294.4 3080.7,1231.7 3084.0,1200.4 3086.7,1181.2 3089.3,1167.5 3093.1,1154.9 3094.8,1150.9 3096.6,1148.3 3099.0,1145.7 3102.1,1143.6 3106.5,1142.1 3110.9,1141.7 3115.3,1142.1 3119.7,1143.6 3122.8,1145.7 3125.2,1148.3 3127.0,1150.9 3128.7,1154.9 3132.5,1167.5 3135.1,1181.2 3137.8,1200.4 3141.1,1231.7 3146.8,1294.4 3148.6,1300.0 3149.7,1302.9 3155.4,1312.7 3159.4,1318.7 3163.1,1323.4 3166.6,1327.0 3170.6,1330.4 3180.9,1336.8 3195.9,1344.2 3213.3,1351.7 3231.6,1358.6 3249.7,1364.5 3267.3,1369.4 3284.9,1373.5 3302.5,1376.7 3322.3,1379.4 3346.6,1381.7 3373.0,1383.1 3406.0,1384.1 3447.9,1384.5 3472.1,1384.2 3498.5,1383.3 3525.0,1381.6 3551.4,1379.4L3554.4,1379.4L3554.4,942.6Z" fill="#ff7c00"/>
<path d="M2667.4,942.6L2667.4,1369.1L2670.4,1369.1 2696.8,1371.5 2723.3,1373.3 2749.7,1374.4 2773.9,1374.7 2815.8,1374.2 2848.8,1373.3 2875.2,1371.7 2899.5,1369.4 2919.3,1366.6 2936.9,1363.3 2954.5,1359.2 2972.1,1354.2 2992.0,1347.6 3012.7,1339.8 3033.2,1331.1 3049.9,1323.1 3063.5,1315.4 3071.5,1302.1 3073.9,1295.5 3082.5,1205.9 3085.4,1183.8 3088.4,1167.4 3092.4,1154.1 3094.2,1150.2 3095.9,1147.7 3098.3,1145.0 3101.6,1142.8 3106.3,1141.1 3110.9,1140.7 3115.5,1141.1 3120.2,1142.8 3123.5,1145.0 3125.9,1147.7 3127.6,1150.2 3129.4,1154.1 3133.4,1167.4 3136.4,1183.8 3139.3,1205.9 3147.9,1295.5 3150.3,1302.1 3158.3,1315.4 3171.9,1323.1 3188.6,1331.1 3209.1,1339.8 3229.8,1347.6 3249.7,1354.2 3267.3,1359.2 3284.9,1363.3 3302.5,1366.6 3322.3,1369.4 3346.6,1371.7 3373.0,1373.3 3406.0,1374.2 3447.9,1374.7 3472.1,1374.4 3498.5,1373.3 3525.0,1371.5 3551.4,1369.1L3554.4,1369.1L3554.4,942.6Z" fill="#ff4a00"/>
<path d="M2667.4,942.6L2667.4,1356.1L2670.4,1356.1 2696.8,1358.7 2723.3,1360.6 2749.7,1361.8 2773.9,1362.1 2815.8,1361.7 2848.8,1360.6 2875.2,1358.9 2899.5,1356.4 2917.1,1353.8 2934.7,1350.3 2952.3,1346.0 2969.9,1340.9 2989.1,1334.3 3009.8,1326.3 3033.2,1316.4 3052.8,1307.4 3072.4,1297.0 3073.0,1295.3 3081.6,1205.6 3084.5,1183.6 3087.6,1167.2 3091.7,1153.3 3093.5,1149.5 3095.3,1147.0 3097.7,1144.3 3101.2,1141.9 3106.3,1140.1 3110.9,1139.7 3115.5,1140.1 3120.6,1141.9 3124.1,1144.3 3126.5,1147.0 3128.3,1149.5 3130.1,1153.3 3134.2,1167.2 3137.3,1183.6 3140.2,1205.6 3148.8,1295.3 3149.4,1297.0 3169.0,1307.4 3188.6,1316.4 3212.0,1326.3 3232.7,1334.3 3251.9,1340.9 3269.5,1346.0 3287.1,1350.3 3304.7,1353.8 3322.3,1356.4 3346.6,1358.9 3373.0,1360.6 3406.0,1361.7 3447.9,1362.1 3472.1,1361.8 3498.5,1360.6 3525.0,1358.7 3551.4,1356.1L3554.4,1356.1L3554.4,942.6Z" fill="#ff1700"/>
<path d="M2667.4,942.6L2667.4,1338.4L2670.4,1338.4 2696.8,1341.3 2723.3,1343.3 2749.7,1344.5 2773.9,1344.9 2815.8,1344.4 2848.8,1343.2 2875.2,1341.4 2899.5,1338.6 2917.1,1335.7 2934.7,1332.0 2952.3,1327.3 2969.9,1321.7 2986.7,1315.7 3005.6,1308.1 3062.7,1283.2 3073.7,1278.2 3079.2,1219.7 3082.5,1191.1 3086.0,1170.0 3090.2,1154.9 3093.1,1148.4 3097.5,1143.3 3100.1,1141.4 3103.4,1139.9 3106.7,1139.1 3110.9,1138.7 3115.1,1139.1 3118.4,1139.9 3121.7,1141.4 3124.3,1143.3 3128.7,1148.4 3131.6,1154.9 3135.8,1170.0 3139.3,1191.1 3142.6,1219.7 3148.1,1278.2 3159.1,1283.2 3216.2,1308.1 3235.1,1315.7 3251.9,1321.7 3269.5,1327.3 3287.1,1332.0 3304.7,1335.7 3322.3,1338.6 3346.6,1341.4 3373.0,1343.2 3406.0,1344.4 3447.9,1344.9 3472.1,1344.5 3498.5,1343.3 3525.0,1341.3 3551.4,1338.4L3554.4,1338.4L3554.4,942.6Z" fill="#e40000"/>
<path d="M2667.4,942.6L2667.4,1314.4L2670.4,1314.4 2692.4,1316.9 2714.5,1318.7 2736.5,1320.0 2758.5,1320.8 2778.3,1320.9 2813.6,1320.4 2837.8,1319.6 2859.8,1318.3 2877.4,1316.7 2892.9,1314.9 2908.3,1312.4 2923.7,1309.3 2939.1,1305.5 2952.3,1301.5 2965.5,1297.1 2980.7,1291.3 3012.7,1277.4 3075.4,1247.9 3079.6,1207.1 3082.5,1184.7 3085.4,1168.8 3089.3,1154.8 3092.2,1148.0 3096.8,1142.6 3099.7,1140.5 3103.0,1139.0 3106.5,1138.1 3110.9,1137.8 3115.3,1138.1 3118.8,1139.0 3122.1,1140.5 3125.0,1142.6 3129.6,1148.0 3132.5,1154.8 3136.4,1168.8 3139.3,1184.7 3142.2,1207.1 3146.4,1247.9 3209.1,1277.4 3241.1,1291.3 3256.3,1297.1 3269.5,1301.5 3282.7,1305.5 3298.1,1309.3 3313.5,1312.4 3328.9,1314.9 3344.4,1316.7 3362.0,1318.3 3384.0,1319.6 3408.2,1320.4 3443.5,1320.9 3463.3,1320.8 3485.3,1320.0 3507.4,1318.7 3529.4,1316.9 3551.4,1314.4L3554.4,1314.4L3554.4,942.6Z" fill="#b20000"/>
<path d="M2667.4,942.6L2667.4,1150.7L2670.4,1150.7 2740.9,1148.2 2773.9,1146.3 2804.8,1144.1 2835.6,1141.3 2868.6,1137.8 2978.8,1124.2 3020.8,1119.7 3044.6,1117.6 3067.3,1116.2 3089.3,1115.4 3110.9,1115.1 3132.5,1115.4 3154.5,1116.2 3177.2,1117.6 3201.0,1119.7 3243.1,1124.2 3353.2,1137.8 3386.2,1141.3 3417.0,1144.1 3447.9,1146.3 3480.9,1148.2 3551.4,1150.7L3554.4,1150.7L3554.4,942.6Z" fill="#e40000"/>
<path d="M2667.4,942.6L2667.4,1087.1L2670.4,1087.1 2740.9,1085.7 2804.8,1083.5 2868.6,1080.2 3020.8,1070.4 3067.3,1068.6 3110.9,1068.0 3154.5,1068.6 3201.0,1070.4 3353.2,1080.2 3417.0,1083.5 3480.9,1085.7 3551.4,1087.1L3554.4,1087.1L3554.4,942.6Z" fill="#ff1700"/>
<path d="M2667.4,942.6L2667.4,1015.6L2670.4,1015.6 2804.8,1014.2 3020.8,1009.3 3110.9,1008.4 3201.0,1009.3 3417.0,1014.2 3551.4,1015.6L3554.4,1015.6L3554.4,942.6Z" fill="#ff4a00"/>
<path d="M2928.8,1221.5 2926.5,1220.5 2918.4,1219.4 2886.6,1217.5 2838.6,1216.3 2784.0,1216.0 2717.2,1216.5 2659.3,1217.9 2626.2,1219.8 2619.4,1220.8 2618.3,1221.3 2618.2,1222.1 2619.4,1227.3 2621.6,1231.2 2626.2,1236.2 2630.8,1239.9 2638.6,1244.7 2648.1,1249.1 2659.3,1253.3 2668.6,1256.2 2682.2,1259.7 2693.3,1262.1 2709.0,1264.9 2725.6,1267.1 2743.0,1268.9 2761.0,1270.2 2793.2,1271.1 2818.1,1270.3 2831.9,1269.1 2845.2,1267.4 2867.1,1263.2 2878.6,1260.1 2889.1,1256.7 2898.6,1252.8 2906.9,1248.6 2914.0,1244.1 2918.4,1240.5 2923.2,1235.6 2926.5,1230.6 2928.0,1226.7 2928.8,1221.5Z" fill="#800000"/>
<path d="M3293.0,1221.5 3295.3,1220.5 3303.4,1219.4 3335.2,1217.5 3383.2,1216.3 3437.8,1216.0 3504.6,1216.5 3562.5,1217.9 3595.6,1219.8 3602.4,1220.8 3603.5,1221.3 3603.6,1222.1 3602.9,1226.0 3600.2,1231.2 3595.6,1236.2 3591.0,1239.9 3583.2,1244.7 3573.7,1249.1 3562.5,1253.3 3553.2,1256.2 3539.6,1259.7 3528.5,1262.1 3512.8,1264.9 3496.2,1267.1 3478.8,1268.9 3460.8,1270.2 3428.6,1271.1 3403.7,1270.3 3389.9,1269.1 3376.6,1267.4 3354.7,1263.2 3343.2,1260.1 3332.7,1256.7 3323.2,1252.8 3314.9,1248.6 3307.8,1244.1 3303.4,1240.5 3298.6,1235.6 3295.3,1230.6 3293.8,1226.7 3293.0,1221.5Z" fill="#800000"/>
</g>
<rect x="2888.85" y="1481.30" width="3.6" height="15.5" fill="#000"/>
<rect x="3109.10" y="1481.30" width="3.6" height="15.5" fill="#000"/>
<rect x="3329.35" y="1481.30" width="3.6" height="15.5" fill="#000"/>
<rect x="2670.40" y="1081.60" width="15.5" height="3.6" fill="#000"/>
<rect x="2670.40" y="1219.40" width="15.5" height="3.6" fill="#000"/>
<rect x="2670.40" y="1357.20" width="15.5" height="3.6" fill="#000"/>
<rect x="2670.40" y="945.60" width="881.0" height="551.2" fill="none" stroke="#000" stroke-width="4.3"/>
<text transform="translate(2545.03,965.10) scale(1.1108,1)" font-size="60.15">650</text>
<text transform="translate(2543.98,1102.90) scale(1.1228,1)" font-size="60.15">550</text>
<text transform="translate(2546.62,1240.70) scale(1.0927,1)" font-size="60.15">450</text>
<text transform="translate(2544.69,1378.50) scale(1.1146,1)" font-size="60.15">350</text>
<text transform="translate(2544.96,1516.30) scale(1.1115,1)" font-size="60.15">250</text>
<text transform="translate(2650.01,1562.30) scale(1.1078,1)" font-size="59.40">200</text>
<rect x="2601.00" y="1545.30" width="39.0" height="3.3" fill="#000"/>
<text transform="translate(2869.49,1562.30) scale(1.1126,1)" font-size="59.40">100</text>
<rect x="2820.90" y="1545.30" width="39.5" height="3.3" fill="#000"/>
<text transform="translate(3094.10,1562.30) scale(1.1043,1)" font-size="59.40">0</text>
<text transform="translate(3281.07,1562.30) scale(1.1273,1)" font-size="59.40">100</text>
<text transform="translate(3502.10,1562.30) scale(1.1114,1)" font-size="59.40">200</text>
<text transform="translate(2838.79,1654.80) scale(1.2917,1)" font-size="56.78">Zonal distance/km</text>
<text transform="translate(2483.20,1409.75) rotate(-90) scale(1.2380,1)" font-size="62.00">Altitude/km</text>
<text transform="translate(2972.96,913.50) scale(1.1842,1)" font-size="65.19" font-style="italic">t</text>
<rect x="3013.85" y="891.10" width="41.3" height="2.6" fill="#000"/>
<rect x="3013.85" y="903.20" width="41.3" height="2.6" fill="#000"/>
<text transform="translate(3066.76,913.50) scale(1.1086,1)" font-size="59.40">1750</text>
<text transform="translate(3221.46,913.50) scale(1.1991,1)" font-size="56.66">s</text>
<rect x="3673.3" y="1437.54" width="56.9" height="20.86" fill="#000080"/>
<rect x="3673.3" y="1417.28" width="56.9" height="20.86" fill="#000090"/>
<rect x="3673.3" y="1397.02" width="56.9" height="20.86" fill="#0000a0"/>
<rect x="3673.3" y="1376.76" width="56.9" height="20.86" fill="#0000b0"/>
<rect x="3673.3" y="1356.50" width="56.9" height="20.86" fill="#0000c0"/>
<rect x="3673.3" y="1336.23" width="56.9" height="20.86" fill="#0000d0"/>
<rect x="3673.3" y="1315.97" width="56.9" height="20.86" fill="#0000e1"/>
<rect x="3673.3" y="1295.71" width="56.9" height="20.86" fill="#0000f1"/>
<rect x="3673.3" y="1275.45" width="56.9" height="20.86" fill="#0002ff"/>
<rect x="3673.3" y="1255.19" width="56.9" height="20.86" fill="#0012ff"/>
<rect x="3673.3" y="1234.93" width="56.9" height="20.86" fill="#0022ff"/>
<rect x="3673.3" y="1214.67" width="56.9" height="20.86" fill="#0033ff"/>
<rect x="3673.3" y="1194.41" width="56.9" height="20.86" fill="#0043ff"/>
<rect x="3673.3" y="1174.15" width="56.9" height="20.86" fill="#0053ff"/>
<rect x="3673.3" y="1153.89" width="56.9" height="20.86" fill="#0063ff"/>
<rect x="3673.3" y="1133.62" width="56.9" height="20.86" fill="#0073ff"/>
<rect x="3673.3" y="1113.36" width="56.9" height="20.86" fill="#0084ff"/>
<rect x="3673.3" y="1093.10" width="56.9" height="20.86" fill="#0094ff"/>
<rect x="3673.3" y="1072.84" width="56.9" height="20.86" fill="#00a4ff"/>
<rect x="3673.3" y="1052.58" width="56.9" height="20.86" fill="#00b4ff"/>
<rect x="3673.3" y="1032.32" width="56.9" height="20.86" fill="#00c4ff"/>
<rect x="3673.3" y="1012.06" width="56.9" height="20.86" fill="#00d4ff"/>
<rect x="3673.3" y="991.80" width="56.9" height="20.86" fill="#00e5ff"/>
<rect x="3673.3" y="971.54" width="56.9" height="20.86" fill="#00f5ff"/>
<rect x="3673.3" y="951.28" width="56.9" height="20.86" fill="#06fff9"/>
<rect x="3673.3" y="931.02" width="56.9" height="20.86" fill="#16ffe9"/>
<rect x="3673.3" y="910.75" width="56.9" height="20.86" fill="#26ffd9"/>
<rect x="3673.3" y="890.49" width="56.9" height="20.86" fill="#37ffc8"/>
<rect x="3673.3" y="870.23" width="56.9" height="20.86" fill="#47ffb8"/>
<rect x="3673.3" y="849.97" width="56.9" height="20.86" fill="#57ffa8"/>
<rect x="3673.3" y="829.71" width="56.9" height="20.86" fill="#67ff98"/>
<rect x="3673.3" y="809.45" width="56.9" height="20.86" fill="#77ff88"/>
<rect x="3673.3" y="789.19" width="56.9" height="20.86" fill="#88ff77"/>
<rect x="3673.3" y="768.93" width="56.9" height="20.86" fill="#98ff67"/>
<rect x="3673.3" y="748.67" width="56.9" height="20.86" fill="#a8ff57"/>
<rect x="3673.3" y="728.41" width="56.9" height="20.86" fill="#b8ff47"/>
<rect x="3673.3" y="708.15" width="56.9" height="20.86" fill="#c8ff37"/>
<rect x="3673.3" y="687.88" width="56.9" height="20.86" fill="#d9ff26"/>
<rect x="3673.3" y="667.62" width="56.9" height="20.86" fill="#e9ff16"/>
<rect x="3673.3" y="647.36" width="56.9" height="20.86" fill="#f9ff06"/>
<rect x="3673.3" y="627.10" width="56.9" height="20.86" fill="#fff500"/>
<rect x="3673.3" y="606.84" width="56.9" height="20.86" fill="#ffe500"/>
<rect x="3673.3" y="586.58" width="56.9" height="20.86" fill="#ffd500"/>
<rect x="3673.3" y="566.32" width="56.9" height="20.86" fill="#ffc400"/>
<rect x="3673.3" y="546.06" width="56.9" height="20.86" fill="#ffb400"/>
<rect x="3673.3" y="525.80" width="56.9" height="20.86" fill="#ffa400"/>
<rect x="3673.3" y="505.54" width="56.9" height="20.86" fill="#ff9400"/>
<rect x="3673.3" y="485.27" width="56.9" height="20.86" fill="#ff8400"/>
<rect x="3673.3" y="465.01" width="56.9" height="20.86" fill="#ff7300"/>
<rect x="3673.3" y="444.75" width="56.9" height="20.86" fill="#ff6300"/>
<rect x="3673.3" y="424.49" width="56.9" height="20.86" fill="#ff5300"/>
<rect x="3673.3" y="404.23" width="56.9" height="20.86" fill="#ff4300"/>
<rect x="3673.3" y="383.97" width="56.9" height="20.86" fill="#ff3300"/>
<rect x="3673.3" y="363.71" width="56.9" height="20.86" fill="#ff2200"/>
<rect x="3673.3" y="343.45" width="56.9" height="20.86" fill="#ff1200"/>
<rect x="3673.3" y="323.19" width="56.9" height="20.86" fill="#ff0200"/>
<rect x="3673.3" y="302.93" width="56.9" height="20.86" fill="#f10000"/>
<rect x="3673.3" y="282.67" width="56.9" height="20.86" fill="#e10000"/>
<rect x="3673.3" y="262.40" width="56.9" height="20.86" fill="#d00000"/>
<rect x="3673.3" y="242.14" width="56.9" height="20.86" fill="#c00000"/>
<rect x="3673.3" y="221.88" width="56.9" height="20.86" fill="#b00000"/>
<rect x="3673.3" y="201.62" width="56.9" height="20.86" fill="#a00000"/>
<rect x="3673.3" y="181.36" width="56.9" height="20.86" fill="#900000"/>
<rect x="3673.3" y="161.10" width="56.9" height="20.86" fill="#800000"/>
<rect x="3715.7" y="1326.33" width="14.5" height="3.6" fill="#000"/>
<rect x="3715.7" y="1196.66" width="14.5" height="3.6" fill="#000"/>
<rect x="3715.7" y="1066.99" width="14.5" height="3.6" fill="#000"/>
<rect x="3715.7" y="937.32" width="14.5" height="3.6" fill="#000"/>
<rect x="3715.7" y="807.65" width="14.5" height="3.6" fill="#000"/>
<rect x="3715.7" y="677.98" width="14.5" height="3.6" fill="#000"/>
<rect x="3715.7" y="548.31" width="14.5" height="3.6" fill="#000"/>
<rect x="3715.7" y="418.64" width="14.5" height="3.6" fill="#000"/>
<rect x="3715.7" y="288.97" width="14.5" height="3.6" fill="#000"/>
<rect x="3673.3" y="161.1" width="56.9" height="1296.7" fill="none" stroke="#000" stroke-width="4.2"/>
<text transform="translate(3755.35,1477.20) scale(1.1758,1)" font-size="60.02">7</text>
<text transform="translate(3757.43,1217.86) scale(1.1419,1)" font-size="59.09">8</text>
<text transform="translate(3757.84,958.52) scale(1.1291,1)" font-size="59.36">9</text>
<text transform="translate(3754.02,699.18) scale(1.1520,1)" font-size="59.09">10</text>
<text transform="translate(3754.19,439.84) scale(1.1099,1)" font-size="59.53">11</text>
<text transform="translate(3754.23,180.50) scale(1.1069,1)" font-size="59.36">12</text>
<text transform="translate(3651.49,77.1) scale(1.1399,1)" font-size="62">log(<tspan font-style="italic">N</tspan>)</text>
</svg></body></html>
